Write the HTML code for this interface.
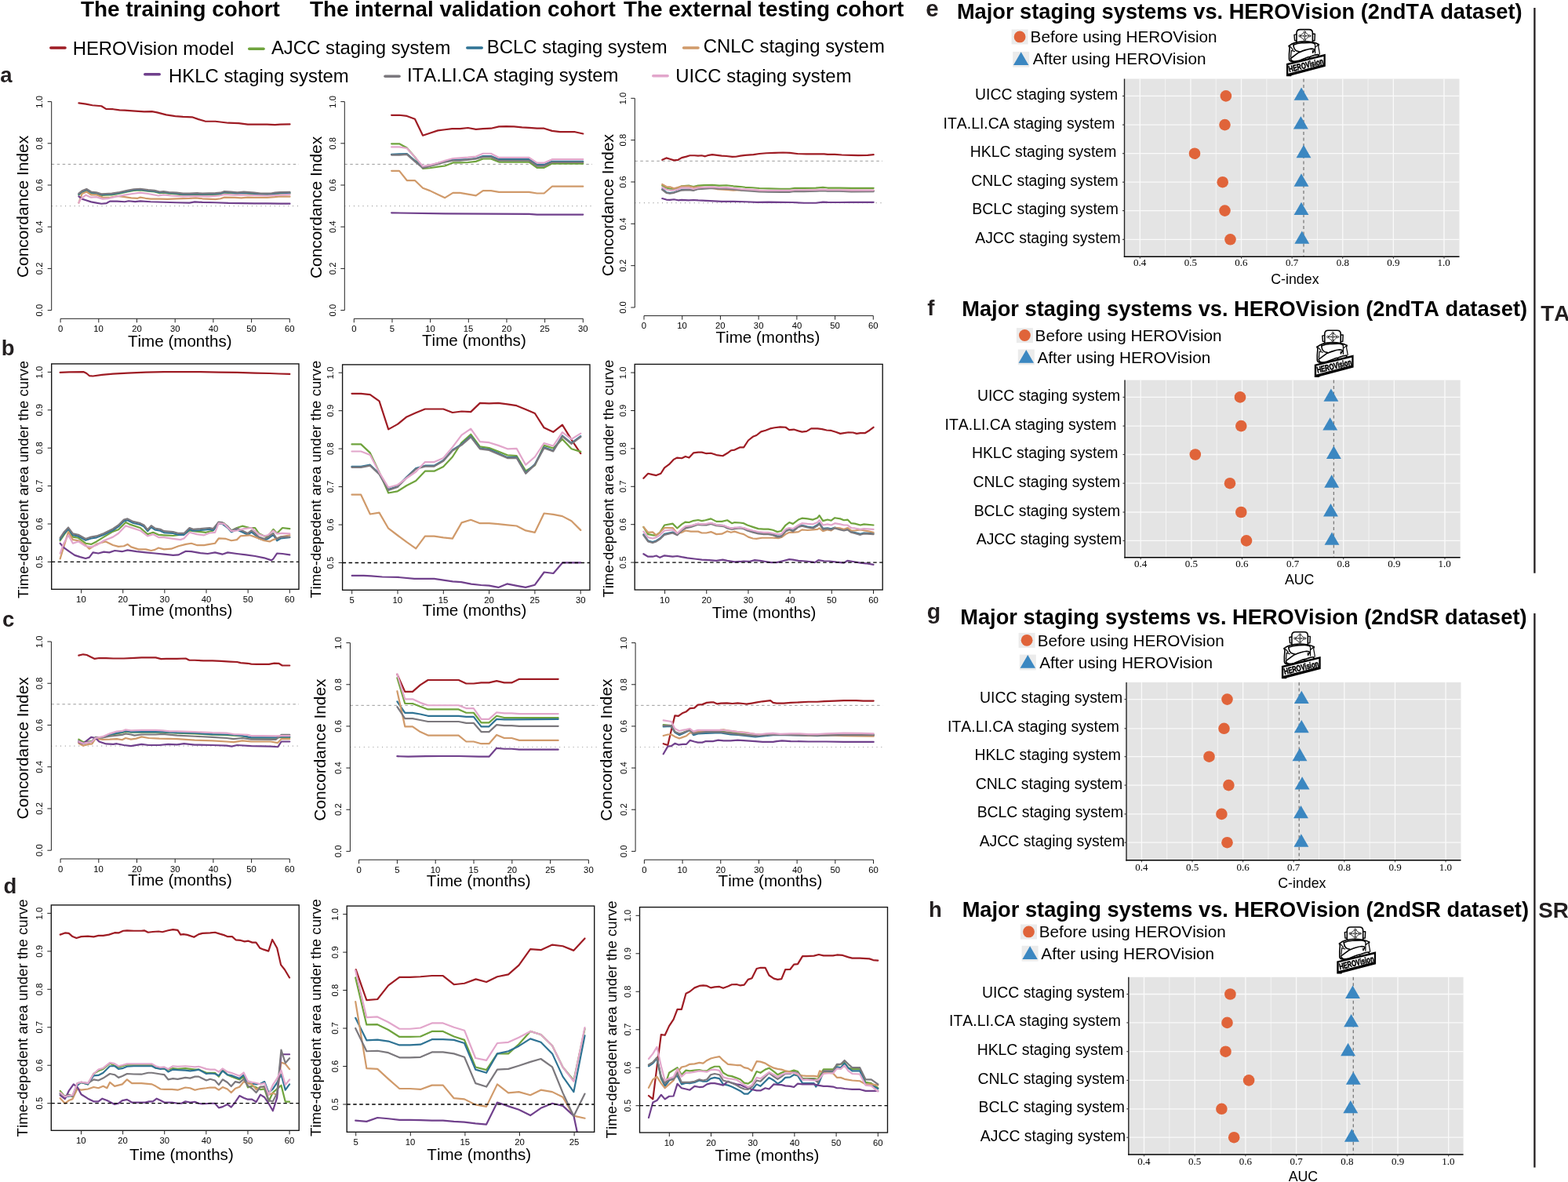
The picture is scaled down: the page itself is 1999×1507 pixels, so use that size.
<!DOCTYPE html>
<html lang="en"><head><meta charset="utf-8"><title>HEROVision staging comparison</title>
<style>html,body{margin:0;padding:0;background:#fff;} body{width:1999px;height:1507px;overflow:hidden;} text{font-kerning:none;}</style>
</head><body>
<svg xmlns="http://www.w3.org/2000/svg" width="1999" height="1507" viewBox="0 0 1999 1507" style="display:block;font-kerning:none">
<rect width="1999" height="1507" fill="#fff"/>
<text x="103.09" y="21.2" font-family="'Liberation Sans', Arial, Helvetica, sans-serif" font-size="27.85" font-weight="bold" fill="#000">The training cohort</text>
<text x="394.89" y="21.2" font-family="'Liberation Sans', Arial, Helvetica, sans-serif" font-size="27.85" font-weight="bold" fill="#000">The internal validation cohort</text>
<text x="794.99" y="21.2" font-family="'Liberation Sans', Arial, Helvetica, sans-serif" font-size="27.85" font-weight="bold" fill="#000">The external testing cohort</text>
<line x1="64.8" y1="61" x2="83" y2="61" stroke="#9e1c24" stroke-width="3.6" stroke-linecap="round"/>
<text x="92.64" y="69.9" font-family="'Liberation Sans', Arial, Helvetica, sans-serif" font-size="23.9" font-weight="normal" fill="#000">HEROVision model</text>
<line x1="317.8" y1="62.2" x2="336" y2="62.2" stroke="#6fa33d" stroke-width="3.6" stroke-linecap="round"/>
<text x="345.95" y="68.7" font-family="'Liberation Sans', Arial, Helvetica, sans-serif" font-size="23.9" font-weight="normal" fill="#000">AJCC staging system</text>
<line x1="595.8" y1="61" x2="614.2" y2="61" stroke="#2f7394" stroke-width="3.6" stroke-linecap="round"/>
<text x="620.84" y="68.3" font-family="'Liberation Sans', Arial, Helvetica, sans-serif" font-size="23.9" font-weight="normal" fill="#000">BCLC staging system</text>
<line x1="871.6" y1="61" x2="890" y2="61" stroke="#d09a6a" stroke-width="3.6" stroke-linecap="round"/>
<text x="896.79" y="66.7" font-family="'Liberation Sans', Arial, Helvetica, sans-serif" font-size="23.9" font-weight="normal" fill="#000">CNLC staging system</text>
<line x1="184.8" y1="94.8" x2="203.2" y2="94.8" stroke="#70408c" stroke-width="3.6" stroke-linecap="round"/>
<text x="215.04" y="104.9" font-family="'Liberation Sans', Arial, Helvetica, sans-serif" font-size="23.9" font-weight="normal" fill="#000">HKLC staging system</text>
<line x1="491" y1="97.2" x2="509" y2="97.2" stroke="#7b787d" stroke-width="3.6" stroke-linecap="round"/>
<text x="518.99" y="103.9" font-family="'Liberation Sans', Arial, Helvetica, sans-serif" font-size="23.9" font-weight="normal" fill="#000">ITA.LI.CA staging system</text>
<line x1="832.8" y1="96.7" x2="851.1" y2="96.7" stroke="#e2a6cb" stroke-width="3.6" stroke-linecap="round"/>
<text x="861.16" y="104.8" font-family="'Liberation Sans', Arial, Helvetica, sans-serif" font-size="23.9" font-weight="normal" fill="#000">UICC staging system</text>
<text x="0.19" y="105" font-family="'Liberation Sans', Arial, Helvetica, sans-serif" font-size="27.5" font-weight="bold" fill="#231f20">a</text>
<text x="1.79" y="452.8" font-family="'Liberation Sans', Arial, Helvetica, sans-serif" font-size="27.5" font-weight="bold" fill="#231f20">b</text>
<text x="2.93" y="798.5" font-family="'Liberation Sans', Arial, Helvetica, sans-serif" font-size="27.5" font-weight="bold" fill="#231f20">c</text>
<text x="4.47" y="1138.8" font-family="'Liberation Sans', Arial, Helvetica, sans-serif" font-size="27.5" font-weight="bold" fill="#231f20">d</text>
<line x1="1956.4" y1="9.9" x2="1956.4" y2="730.7" stroke="#231f20" stroke-width="2.3"/>
<line x1="1956.4" y1="782" x2="1956.4" y2="1488.5" stroke="#231f20" stroke-width="2.3"/>
<text x="1964.29" y="409" font-family="'Liberation Sans', Arial, Helvetica, sans-serif" font-size="27.8" font-weight="bold" fill="#231f20">TA</text>
<text x="1961.2" y="1169.6" font-family="'Liberation Sans', Arial, Helvetica, sans-serif" font-size="27.8" font-weight="bold" fill="#231f20">SR</text>
<line x1="65.7" y1="209.4" x2="380.99" y2="209.4" stroke="#9a9a9a" stroke-width="1" stroke-dasharray="3.5,3.5"/>
<line x1="65.7" y1="262.6" x2="380.99" y2="262.6" stroke="#9a9a9a" stroke-width="1.1" stroke-dasharray="1,4.8"/>
<line x1="65.7" y1="395.6" x2="65.7" y2="129.6" stroke="#222" stroke-width="1"/>
<line x1="60.7" y1="395.6" x2="65.7" y2="395.6" stroke="#222" stroke-width="1"/>
<text transform="translate(54.2,395.6) rotate(-90)" x="-7.85" y="0" font-family="'Liberation Sans', Arial, Helvetica, sans-serif" font-size="11.3" fill="#000">0.0</text>
<line x1="60.7" y1="342.4" x2="65.7" y2="342.4" stroke="#222" stroke-width="1"/>
<text transform="translate(54.2,342.4) rotate(-90)" x="-7.79" y="0" font-family="'Liberation Sans', Arial, Helvetica, sans-serif" font-size="11.3" fill="#000">0.2</text>
<line x1="60.7" y1="289.2" x2="65.7" y2="289.2" stroke="#222" stroke-width="1"/>
<text transform="translate(54.2,289.2) rotate(-90)" x="-7.91" y="0" font-family="'Liberation Sans', Arial, Helvetica, sans-serif" font-size="11.3" fill="#000">0.4</text>
<line x1="60.7" y1="236" x2="65.7" y2="236" stroke="#222" stroke-width="1"/>
<text transform="translate(54.2,236) rotate(-90)" x="-7.83" y="0" font-family="'Liberation Sans', Arial, Helvetica, sans-serif" font-size="11.3" fill="#000">0.6</text>
<line x1="60.7" y1="182.8" x2="65.7" y2="182.8" stroke="#222" stroke-width="1"/>
<text transform="translate(54.2,182.8) rotate(-90)" x="-7.83" y="0" font-family="'Liberation Sans', Arial, Helvetica, sans-serif" font-size="11.3" fill="#000">0.8</text>
<line x1="60.7" y1="129.6" x2="65.7" y2="129.6" stroke="#222" stroke-width="1"/>
<text transform="translate(54.2,129.6) rotate(-90)" x="-8.06" y="0" font-family="'Liberation Sans', Arial, Helvetica, sans-serif" font-size="11.3" fill="#000">1.0</text>
<line x1="77.1" y1="406.3" x2="369.3" y2="406.3" stroke="#222" stroke-width="1"/>
<line x1="77.1" y1="406.3" x2="77.1" y2="411.3" stroke="#222" stroke-width="1"/>
<text x="73.96" y="423" font-family="'Liberation Sans', Arial, Helvetica, sans-serif" font-size="11.3" font-weight="normal" fill="#000">0</text>
<line x1="125.8" y1="406.3" x2="125.8" y2="411.3" stroke="#222" stroke-width="1"/>
<text x="119.31" y="423" font-family="'Liberation Sans', Arial, Helvetica, sans-serif" font-size="11.3" font-weight="normal" fill="#000">10</text>
<line x1="174.5" y1="406.3" x2="174.5" y2="411.3" stroke="#222" stroke-width="1"/>
<text x="168.15" y="423" font-family="'Liberation Sans', Arial, Helvetica, sans-serif" font-size="11.3" font-weight="normal" fill="#000">20</text>
<line x1="223.2" y1="406.3" x2="223.2" y2="411.3" stroke="#222" stroke-width="1"/>
<text x="216.92" y="423" font-family="'Liberation Sans', Arial, Helvetica, sans-serif" font-size="11.3" font-weight="normal" fill="#000">30</text>
<line x1="271.9" y1="406.3" x2="271.9" y2="411.3" stroke="#222" stroke-width="1"/>
<text x="265.71" y="423" font-family="'Liberation Sans', Arial, Helvetica, sans-serif" font-size="11.3" font-weight="normal" fill="#000">40</text>
<line x1="320.6" y1="406.3" x2="320.6" y2="411.3" stroke="#222" stroke-width="1"/>
<text x="314.31" y="423" font-family="'Liberation Sans', Arial, Helvetica, sans-serif" font-size="11.3" font-weight="normal" fill="#000">50</text>
<line x1="369.3" y1="406.3" x2="369.3" y2="411.3" stroke="#222" stroke-width="1"/>
<text x="362.95" y="423" font-family="'Liberation Sans', Arial, Helvetica, sans-serif" font-size="11.3" font-weight="normal" fill="#000">60</text>
<text transform="translate(36.1,263) rotate(-90)" x="-91.04" y="0" font-family="'Liberation Sans', Arial, Helvetica, sans-serif" font-size="20.9" fill="#000">Concordance Index</text>
<text x="162.92" y="441.7" font-family="'Liberation Sans', Arial, Helvetica, sans-serif" font-size="20.6" font-weight="normal" fill="#000">Time (months)</text>
<g>
<polyline points="100.44,131.46 109.52,132.61 117.77,134.27 129.33,135.26 135.11,138.89 144.19,139.22 152.44,140.37 159.04,140.54 168.95,141.36 183.8,142.35 193.71,142.19 200.31,143.34 211.87,146.32 223.42,148.13 233.32,148.96 244.88,149.29 253.13,152.09 261.39,154.57 274.59,154.73 291.1,156.72 304.31,157.05 315.86,158.7 340.62,158.53 350.52,159.03 357.13,158.53 369.51,158.37" fill="none" stroke="#9e1c24" stroke-width="2.2" stroke-linejoin="round" stroke-linecap="round"/>
<polyline points="100.44,248.33 104.57,245.03 110.35,242.55 116.12,246.18 122.73,247.01 129.33,248.99 134.28,248.66 142.54,248.33 152.44,246.68 162.34,244.53 170.6,242.88 178.85,242.39 188.76,243.71 197.01,244.53 203.61,246.18 208.56,245.69 215.17,246.68 225.07,247.34 233.32,248.33 241.58,248.33 251.48,247.83 258.09,248.33 274.59,247.83 281.2,247.34 286.15,245.69 294.4,246.18 302.65,247.01 310.91,246.35 324.11,247.34 332.37,248.33 345.57,248.16 350.52,247.34 357.13,246.68 369.51,246.51" fill="none" stroke="#6fa33d" stroke-width="2.2" stroke-linejoin="round" stroke-linecap="round"/>
<polyline points="100.44,247.67 104.57,244.37 110.35,241.89 116.12,245.52 122.73,246.35 129.33,248.33 134.28,248 142.54,247.67 152.44,246.02 162.34,243.87 170.6,242.22 178.85,241.73 188.76,243.05 197.01,243.87 203.61,245.52 208.56,245.03 215.17,246.02 225.07,246.68 233.32,247.67 241.58,247.67 251.48,247.17 258.09,247.67 274.59,247.17 281.2,246.68 286.15,245.03 294.4,245.52 302.65,246.35 310.91,245.69 324.11,246.68 332.37,247.67 345.57,247.5 350.52,246.68 357.13,246.02 369.51,245.85" fill="none" stroke="#2f7394" stroke-width="2.2" stroke-linejoin="round" stroke-linecap="round"/>
<polyline points="100.44,258.56 104.57,247.01 110.35,244.53 116.12,248.33 122.73,248.33 130.98,251.63 139.23,251.96 149.14,249.98 159.04,251.14 167.3,252.29 175.55,252.79 178.85,251.63 185.45,252.79 192.06,253.61 203.61,253.61 213.52,253.94 225.07,253.28 241.58,252.95 249.83,252.29 258.09,253.28 274.59,254.11 281.2,253.28 286.15,251.63 299.35,251.96 307.61,252.29 315.86,251.63 324.11,251.96 340.62,251.96 350.52,251.14 357.13,250.31 369.51,250.64" fill="none" stroke="#d09a6a" stroke-width="2.2" stroke-linejoin="round" stroke-linecap="round"/>
<polyline points="100.44,250.31 104.57,253.61 109.52,255.26 116.12,257.41 122.73,258.56 129.33,259.72 135.93,259.06 140.06,256.58 149.14,256.58 159.04,257.24 163.99,256.25 172.25,257.08 178.85,256.42 192.06,257.24 208.56,257.74 225.07,258.23 241.58,258.56 248.18,257.41 258.09,257.9 274.59,258.23 291.1,258.89 307.61,259.06 324.11,259.39 340.62,259.39 357.13,259.72 369.51,259.72" fill="none" stroke="#70408c" stroke-width="2.2" stroke-linejoin="round" stroke-linecap="round"/>
<polyline points="100.44,246.68 104.57,243.38 110.35,240.9 116.12,244.53 122.73,245.36 129.33,247.34 134.28,247.01 142.54,246.68 152.44,245.03 162.34,242.88 170.6,241.23 178.85,240.74 188.76,242.06 197.01,242.88 203.61,244.53 208.56,244.04 215.17,245.03 225.07,245.69 233.32,246.68 241.58,246.68 251.48,246.18 258.09,246.68 274.59,246.18 281.2,245.69 286.15,244.04 294.4,244.53 302.65,245.36 310.91,244.7 324.11,245.69 332.37,246.68 345.57,246.51 350.52,245.69 357.13,245.03 369.51,244.86" fill="none" stroke="#7b787d" stroke-width="2.2" stroke-linejoin="round" stroke-linecap="round"/>
<polyline points="100.44,258.56 102.92,253.61 109.52,248.66 116.12,251.63 122.73,251.14 130.98,253.61 139.23,252.79 149.14,250.31 159.04,248.66 168.95,247.01 178.85,245.69 188.76,247.01 201.96,249.48 208.56,248.33 218.47,249.48 233.32,250.31 249.83,249.98 266.34,250.31 279.54,249.48 286.15,247.83 299.35,248.66 307.61,248.33 324.11,248.99 340.62,249.48 357.13,248.66 369.51,247.83" fill="none" stroke="#e2a6cb" stroke-width="2.2" stroke-linejoin="round" stroke-linecap="round"/>
</g>
<line x1="439.3" y1="209.4" x2="754.98" y2="209.4" stroke="#9a9a9a" stroke-width="1" stroke-dasharray="3.5,3.5"/>
<line x1="439.3" y1="262.6" x2="754.98" y2="262.6" stroke="#9a9a9a" stroke-width="1.1" stroke-dasharray="1,4.8"/>
<line x1="439.3" y1="395.6" x2="439.3" y2="129.6" stroke="#222" stroke-width="1"/>
<line x1="434.3" y1="395.6" x2="439.3" y2="395.6" stroke="#222" stroke-width="1"/>
<text transform="translate(427.8,395.6) rotate(-90)" x="-7.85" y="0" font-family="'Liberation Sans', Arial, Helvetica, sans-serif" font-size="11.3" fill="#000">0.0</text>
<line x1="434.3" y1="342.4" x2="439.3" y2="342.4" stroke="#222" stroke-width="1"/>
<text transform="translate(427.8,342.4) rotate(-90)" x="-7.79" y="0" font-family="'Liberation Sans', Arial, Helvetica, sans-serif" font-size="11.3" fill="#000">0.2</text>
<line x1="434.3" y1="289.2" x2="439.3" y2="289.2" stroke="#222" stroke-width="1"/>
<text transform="translate(427.8,289.2) rotate(-90)" x="-7.91" y="0" font-family="'Liberation Sans', Arial, Helvetica, sans-serif" font-size="11.3" fill="#000">0.4</text>
<line x1="434.3" y1="236" x2="439.3" y2="236" stroke="#222" stroke-width="1"/>
<text transform="translate(427.8,236) rotate(-90)" x="-7.83" y="0" font-family="'Liberation Sans', Arial, Helvetica, sans-serif" font-size="11.3" fill="#000">0.6</text>
<line x1="434.3" y1="182.8" x2="439.3" y2="182.8" stroke="#222" stroke-width="1"/>
<text transform="translate(427.8,182.8) rotate(-90)" x="-7.83" y="0" font-family="'Liberation Sans', Arial, Helvetica, sans-serif" font-size="11.3" fill="#000">0.8</text>
<line x1="434.3" y1="129.6" x2="439.3" y2="129.6" stroke="#222" stroke-width="1"/>
<text transform="translate(427.8,129.6) rotate(-90)" x="-8.06" y="0" font-family="'Liberation Sans', Arial, Helvetica, sans-serif" font-size="11.3" fill="#000">1.0</text>
<line x1="451.3" y1="406.3" x2="743.3" y2="406.3" stroke="#222" stroke-width="1"/>
<line x1="451.3" y1="406.3" x2="451.3" y2="411.3" stroke="#222" stroke-width="1"/>
<text x="448.16" y="423" font-family="'Liberation Sans', Arial, Helvetica, sans-serif" font-size="11.3" font-weight="normal" fill="#000">0</text>
<line x1="499.97" y1="406.3" x2="499.97" y2="411.3" stroke="#222" stroke-width="1"/>
<text x="496.84" y="423" font-family="'Liberation Sans', Arial, Helvetica, sans-serif" font-size="11.3" font-weight="normal" fill="#000">5</text>
<line x1="548.63" y1="406.3" x2="548.63" y2="411.3" stroke="#222" stroke-width="1"/>
<text x="542.14" y="423" font-family="'Liberation Sans', Arial, Helvetica, sans-serif" font-size="11.3" font-weight="normal" fill="#000">10</text>
<line x1="597.3" y1="406.3" x2="597.3" y2="411.3" stroke="#222" stroke-width="1"/>
<text x="590.82" y="423" font-family="'Liberation Sans', Arial, Helvetica, sans-serif" font-size="11.3" font-weight="normal" fill="#000">15</text>
<line x1="645.97" y1="406.3" x2="645.97" y2="411.3" stroke="#222" stroke-width="1"/>
<text x="639.62" y="423" font-family="'Liberation Sans', Arial, Helvetica, sans-serif" font-size="11.3" font-weight="normal" fill="#000">20</text>
<line x1="694.63" y1="406.3" x2="694.63" y2="411.3" stroke="#222" stroke-width="1"/>
<text x="688.3" y="423" font-family="'Liberation Sans', Arial, Helvetica, sans-serif" font-size="11.3" font-weight="normal" fill="#000">25</text>
<line x1="743.3" y1="406.3" x2="743.3" y2="411.3" stroke="#222" stroke-width="1"/>
<text x="737.02" y="423" font-family="'Liberation Sans', Arial, Helvetica, sans-serif" font-size="11.3" font-weight="normal" fill="#000">30</text>
<text transform="translate(410,264) rotate(-90)" x="-91.04" y="0" font-family="'Liberation Sans', Arial, Helvetica, sans-serif" font-size="20.9" fill="#000">Concordance Index</text>
<text x="538.02" y="440.5" font-family="'Liberation Sans', Arial, Helvetica, sans-serif" font-size="20.6" font-weight="normal" fill="#000">Time (months)</text>
<g>
<polyline points="499.13,146.78 509.06,146.78 518.76,147.91 528.92,151.74 539.07,172.73 548.1,169.79 558.25,166.41 567.27,165.28 576.3,164.15 586.45,164.15 596.61,163.02 606.76,164.83 615.79,164.15 625.94,163.7 636.09,161.44 645.12,161.22 655.27,161.44 665.42,162.35 674.45,162.8 684.6,163.7 693.63,163.7 703.78,166.86 713.94,168.21 722.96,168.21 733.11,168.21 743.27,170.47" fill="none" stroke="#9e1c24" stroke-width="2.2" stroke-linejoin="round" stroke-linecap="round"/>
<polyline points="499.13,183.33 509.06,183.33 518.76,188.52 528.92,200.25 539.07,214.92 548.1,214.24 558.25,212.66 567.27,211.53 577.43,207.47 586.45,207.47 596.61,207.02 606.76,205.89 615.79,202.51 625.94,202.51 636.09,206.57 645.12,206.57 655.27,206.57 665.42,206.57 674.45,206.57 684.6,213.79 693.63,213.79 703.78,208.6 713.94,208.6 722.96,208.6 733.11,208.6 743.27,208.6" fill="none" stroke="#6fa33d" stroke-width="2.2" stroke-linejoin="round" stroke-linecap="round"/>
<polyline points="499.13,196.87 509.06,196.42 518.76,196.19 528.92,204.77 539.07,213.34 548.1,211.08 558.25,208.15 567.27,205.89 577.43,203.64 586.45,203.64 596.61,203.19 606.76,202.06 615.79,199.12 625.94,199.12 636.09,203.19 645.12,203.19 655.27,203.19 665.42,203.19 674.45,203.19 684.6,209.95 693.63,209.95 703.78,205.89 713.94,205.89 722.96,205.89 733.11,205.89 743.27,205.89" fill="none" stroke="#2f7394" stroke-width="2.2" stroke-linejoin="round" stroke-linecap="round"/>
<polyline points="499.13,217.85 509.06,217.85 518.76,230.04 528.92,230.04 539.07,239.74 548.1,243.12 558.25,248.09 567.27,252.15 577.43,245.83 586.45,245.83 596.61,247.64 606.76,249.44 615.79,243.12 625.94,243.12 636.09,244.93 645.12,244.93 655.27,244.93 665.42,244.93 674.45,244.93 684.6,246.51 693.63,246.51 703.78,237.71 713.94,237.71 722.96,237.71 733.11,237.71 743.27,237.71" fill="none" stroke="#d09a6a" stroke-width="2.2" stroke-linejoin="round" stroke-linecap="round"/>
<polyline points="499.13,271.33 567.27,272.45 674.45,272.91 684.6,273.58 743.27,273.58" fill="none" stroke="#70408c" stroke-width="2.2" stroke-linejoin="round" stroke-linecap="round"/>
<polyline points="499.13,197.55 509.06,197.55 518.76,196.87 528.92,205.89 539.07,214.24 548.1,211.99 558.25,209.28 567.27,206.57 577.43,204.77 586.45,204.77 596.61,203.64 606.76,202.51 615.79,200.25 625.94,200.25 636.09,204.77 645.12,204.77 655.27,204.77 665.42,204.77 674.45,204.77 684.6,211.53 693.63,211.53 703.78,207.02 713.94,207.02 722.96,207.02 733.11,207.02 743.27,207.02" fill="none" stroke="#7b787d" stroke-width="2.2" stroke-linejoin="round" stroke-linecap="round"/>
<polyline points="499.13,187.39 509.06,187.39 518.76,188.97 528.92,200.25 539.07,211.99 548.1,210.41 558.25,207.7 567.27,204.77 577.43,202.06 586.45,201.38 596.61,200.7 606.76,199.58 615.79,195.74 625.94,195.74 636.09,200.93 645.12,200.93 655.27,200.93 665.42,200.93 674.45,200.93 684.6,207.7 693.63,207.7 703.78,203.19 713.94,203.19 722.96,203.19 733.11,203.19 743.27,203.19" fill="none" stroke="#e2a6cb" stroke-width="2.2" stroke-linejoin="round" stroke-linecap="round"/>
</g>
<line x1="809.3" y1="205.31" x2="1124.99" y2="205.31" stroke="#9a9a9a" stroke-width="1" stroke-dasharray="3.5,3.5"/>
<line x1="809.3" y1="258.65" x2="1124.99" y2="258.65" stroke="#9a9a9a" stroke-width="1.1" stroke-dasharray="1,4.8"/>
<line x1="809.3" y1="392" x2="809.3" y2="125.3" stroke="#222" stroke-width="1"/>
<line x1="804.3" y1="392" x2="809.3" y2="392" stroke="#222" stroke-width="1"/>
<text transform="translate(797.8,392) rotate(-90)" x="-7.85" y="0" font-family="'Liberation Sans', Arial, Helvetica, sans-serif" font-size="11.3" fill="#000">0.0</text>
<line x1="804.3" y1="338.66" x2="809.3" y2="338.66" stroke="#222" stroke-width="1"/>
<text transform="translate(797.8,338.66) rotate(-90)" x="-7.79" y="0" font-family="'Liberation Sans', Arial, Helvetica, sans-serif" font-size="11.3" fill="#000">0.2</text>
<line x1="804.3" y1="285.32" x2="809.3" y2="285.32" stroke="#222" stroke-width="1"/>
<text transform="translate(797.8,285.32) rotate(-90)" x="-7.91" y="0" font-family="'Liberation Sans', Arial, Helvetica, sans-serif" font-size="11.3" fill="#000">0.4</text>
<line x1="804.3" y1="231.98" x2="809.3" y2="231.98" stroke="#222" stroke-width="1"/>
<text transform="translate(797.8,231.98) rotate(-90)" x="-7.83" y="0" font-family="'Liberation Sans', Arial, Helvetica, sans-serif" font-size="11.3" fill="#000">0.6</text>
<line x1="804.3" y1="178.64" x2="809.3" y2="178.64" stroke="#222" stroke-width="1"/>
<text transform="translate(797.8,178.64) rotate(-90)" x="-7.83" y="0" font-family="'Liberation Sans', Arial, Helvetica, sans-serif" font-size="11.3" fill="#000">0.8</text>
<line x1="804.3" y1="125.3" x2="809.3" y2="125.3" stroke="#222" stroke-width="1"/>
<text transform="translate(797.8,125.3) rotate(-90)" x="-8.06" y="0" font-family="'Liberation Sans', Arial, Helvetica, sans-serif" font-size="11.3" fill="#000">1.0</text>
<line x1="821" y1="402.6" x2="1113.3" y2="402.6" stroke="#222" stroke-width="1"/>
<line x1="821" y1="402.6" x2="821" y2="407.6" stroke="#222" stroke-width="1"/>
<text x="817.86" y="419.3" font-family="'Liberation Sans', Arial, Helvetica, sans-serif" font-size="11.3" font-weight="normal" fill="#000">0</text>
<line x1="869.72" y1="402.6" x2="869.72" y2="407.6" stroke="#222" stroke-width="1"/>
<text x="863.22" y="419.3" font-family="'Liberation Sans', Arial, Helvetica, sans-serif" font-size="11.3" font-weight="normal" fill="#000">10</text>
<line x1="918.43" y1="402.6" x2="918.43" y2="407.6" stroke="#222" stroke-width="1"/>
<text x="912.09" y="419.3" font-family="'Liberation Sans', Arial, Helvetica, sans-serif" font-size="11.3" font-weight="normal" fill="#000">20</text>
<line x1="967.15" y1="402.6" x2="967.15" y2="407.6" stroke="#222" stroke-width="1"/>
<text x="960.87" y="419.3" font-family="'Liberation Sans', Arial, Helvetica, sans-serif" font-size="11.3" font-weight="normal" fill="#000">30</text>
<line x1="1015.87" y1="402.6" x2="1015.87" y2="407.6" stroke="#222" stroke-width="1"/>
<text x="1009.67" y="419.3" font-family="'Liberation Sans', Arial, Helvetica, sans-serif" font-size="11.3" font-weight="normal" fill="#000">40</text>
<line x1="1064.58" y1="402.6" x2="1064.58" y2="407.6" stroke="#222" stroke-width="1"/>
<text x="1058.29" y="419.3" font-family="'Liberation Sans', Arial, Helvetica, sans-serif" font-size="11.3" font-weight="normal" fill="#000">50</text>
<line x1="1113.3" y1="402.6" x2="1113.3" y2="407.6" stroke="#222" stroke-width="1"/>
<text x="1106.95" y="419.3" font-family="'Liberation Sans', Arial, Helvetica, sans-serif" font-size="11.3" font-weight="normal" fill="#000">60</text>
<text transform="translate(781.6,261.2) rotate(-90)" x="-91.04" y="0" font-family="'Liberation Sans', Arial, Helvetica, sans-serif" font-size="20.9" fill="#000">Concordance Index</text>
<text x="912.52" y="437.2" font-family="'Liberation Sans', Arial, Helvetica, sans-serif" font-size="20.6" font-weight="normal" fill="#000">Time (months)</text>
<g>
<polyline points="844.26,203.81 849.51,201.41 854.01,202.76 859.27,204.41 864.52,203.81 869.02,201.11 875.02,199.61 879.53,198.25 885.53,198.25 890.03,198.7 894.54,198.25 899.04,199.31 903.54,197.8 908.04,197.2 914.05,197.8 920.05,198.55 926.05,199 933.56,199.91 938.06,199.76 944.06,198.7 950.07,197.8 960.57,197.2 968.08,196 977.08,195.25 987.59,194.95 998.09,194.5 1007.1,194.95 1016.1,196 1028.11,196.3 1040.12,196.45 1050.62,196.3 1055.12,196.9 1064.13,196.9 1073.13,197.5 1085.14,197.8 1094.15,198.1 1106.15,197.8 1113.66,197.2" fill="none" stroke="#9e1c24" stroke-width="2.2" stroke-linejoin="round" stroke-linecap="round"/>
<polyline points="844.26,236.53 849.51,239.53 854.01,240.58 859.27,241.03 864.52,239.53 869.02,237.28 878.03,236.53 884.03,238.03 890.03,236.53 897.54,236.08 908.04,235.78 917.05,236.53 926.05,236.23 935.06,237.28 944.06,238.03 950.07,238.78 959.07,239.23 968.08,239.98 980.08,240.43 995.09,240.73 1007.1,240.73 1013.1,239.83 1025.11,239.83 1040.12,239.53 1049.12,238.93 1055.12,239.53 1070.13,239.53 1085.14,239.83 1113.66,239.83" fill="none" stroke="#6fa33d" stroke-width="2.2" stroke-linejoin="round" stroke-linecap="round"/>
<polyline points="844.26,241.18 849.51,245.23 854.01,246.13 859.27,245.23 864.52,243.43 869.02,241.93 878.03,241.48 884.03,242.23 890.03,240.43 897.54,239.98 908.04,239.38 917.05,240.13 926.05,239.98 935.06,240.88 944.06,241.93 959.07,242.98 968.08,243.73 980.08,244.03 995.09,244.18 1007.1,244.18 1013.1,243.43 1025.11,243.43 1040.12,243.13 1049.12,242.53 1055.12,243.13 1070.13,243.13 1085.14,243.73 1113.66,243.43" fill="none" stroke="#2f7394" stroke-width="2.2" stroke-linejoin="round" stroke-linecap="round"/>
<polyline points="844.26,235.02 849.51,238.03 854.01,238.33 859.27,240.28 864.52,238.78 869.02,237.58 878.03,237.43 884.03,238.78 890.03,238.33 905.04,239.53 914.05,241.03 926.05,241.78 935.06,242.53 944.06,242.23 959.07,242.53 980.08,243.28 1010.1,243.13 1040.12,242.53 1113.66,242.83" fill="none" stroke="#d09a6a" stroke-width="2.2" stroke-linejoin="round" stroke-linecap="round"/>
<polyline points="844.26,253.03 849.51,254.54 854.01,254.84 859.27,254.24 864.52,255.29 869.02,254.84 878.03,255.29 884.03,254.99 890.03,255.44 905.04,256.04 920.05,256.79 935.06,256.79 950.07,257.24 965.07,257.84 980.08,257.54 995.09,257.84 1010.1,257.99 1025.11,258.74 1040.12,258.74 1049.12,257.54 1055.12,257.84 1070.13,257.99 1085.14,257.84 1113.66,257.84" fill="none" stroke="#70408c" stroke-width="2.2" stroke-linejoin="round" stroke-linecap="round"/>
<polyline points="844.26,241.78 849.51,245.83 854.01,246.73 859.27,245.83 864.52,244.03 869.02,242.53 878.03,242.08 884.03,242.83 890.03,241.03 897.54,240.58 908.04,239.98 917.05,240.73 926.05,240.58 935.06,241.48 944.06,242.53 959.07,243.58 968.08,244.33 980.08,244.63 995.09,244.78 1007.1,244.78 1013.1,244.03 1025.11,244.03 1040.12,243.73 1049.12,243.13 1055.12,243.73 1070.13,243.73 1085.14,244.33 1113.66,244.03" fill="none" stroke="#7b787d" stroke-width="2.2" stroke-linejoin="round" stroke-linecap="round"/>
<polyline points="844.26,238.78 849.51,241.78 854.01,242.53 859.27,242.53 864.52,241.33 869.02,239.53 878.03,239.53 884.03,241.03 890.03,239.53 897.54,238.78 908.04,238.33 917.05,239.23 926.05,239.08 935.06,239.98 944.06,241.03 959.07,241.78 968.08,242.53 980.08,242.83 995.09,242.83 1007.1,242.83 1013.1,242.23 1025.11,242.23 1040.12,242.23 1049.12,241.63 1055.12,242.23 1070.13,242.23 1085.14,242.53 1113.66,242.53" fill="none" stroke="#e2a6cb" stroke-width="2.2" stroke-linejoin="round" stroke-linecap="round"/>
</g>
<line x1="65.4" y1="897.86" x2="380.99" y2="897.86" stroke="#9a9a9a" stroke-width="1" stroke-dasharray="3.5,3.5"/>
<line x1="65.4" y1="951.1" x2="380.99" y2="951.1" stroke="#9a9a9a" stroke-width="1.1" stroke-dasharray="1,4.8"/>
<line x1="65.4" y1="1084.2" x2="65.4" y2="818" stroke="#222" stroke-width="1"/>
<line x1="60.4" y1="1084.2" x2="65.4" y2="1084.2" stroke="#222" stroke-width="1"/>
<text transform="translate(53.9,1084.2) rotate(-90)" x="-7.85" y="0" font-family="'Liberation Sans', Arial, Helvetica, sans-serif" font-size="11.3" fill="#000">0.0</text>
<line x1="60.4" y1="1030.96" x2="65.4" y2="1030.96" stroke="#222" stroke-width="1"/>
<text transform="translate(53.9,1030.96) rotate(-90)" x="-7.79" y="0" font-family="'Liberation Sans', Arial, Helvetica, sans-serif" font-size="11.3" fill="#000">0.2</text>
<line x1="60.4" y1="977.72" x2="65.4" y2="977.72" stroke="#222" stroke-width="1"/>
<text transform="translate(53.9,977.72) rotate(-90)" x="-7.91" y="0" font-family="'Liberation Sans', Arial, Helvetica, sans-serif" font-size="11.3" fill="#000">0.4</text>
<line x1="60.4" y1="924.48" x2="65.4" y2="924.48" stroke="#222" stroke-width="1"/>
<text transform="translate(53.9,924.48) rotate(-90)" x="-7.83" y="0" font-family="'Liberation Sans', Arial, Helvetica, sans-serif" font-size="11.3" fill="#000">0.6</text>
<line x1="60.4" y1="871.24" x2="65.4" y2="871.24" stroke="#222" stroke-width="1"/>
<text transform="translate(53.9,871.24) rotate(-90)" x="-7.83" y="0" font-family="'Liberation Sans', Arial, Helvetica, sans-serif" font-size="11.3" fill="#000">0.8</text>
<line x1="60.4" y1="818" x2="65.4" y2="818" stroke="#222" stroke-width="1"/>
<text transform="translate(53.9,818) rotate(-90)" x="-8.06" y="0" font-family="'Liberation Sans', Arial, Helvetica, sans-serif" font-size="11.3" fill="#000">1.0</text>
<line x1="77.1" y1="1095" x2="369.3" y2="1095" stroke="#222" stroke-width="1"/>
<line x1="77.1" y1="1095" x2="77.1" y2="1100" stroke="#222" stroke-width="1"/>
<text x="73.96" y="1111.7" font-family="'Liberation Sans', Arial, Helvetica, sans-serif" font-size="11.3" font-weight="normal" fill="#000">0</text>
<line x1="125.8" y1="1095" x2="125.8" y2="1100" stroke="#222" stroke-width="1"/>
<text x="119.31" y="1111.7" font-family="'Liberation Sans', Arial, Helvetica, sans-serif" font-size="11.3" font-weight="normal" fill="#000">10</text>
<line x1="174.5" y1="1095" x2="174.5" y2="1100" stroke="#222" stroke-width="1"/>
<text x="168.15" y="1111.7" font-family="'Liberation Sans', Arial, Helvetica, sans-serif" font-size="11.3" font-weight="normal" fill="#000">20</text>
<line x1="223.2" y1="1095" x2="223.2" y2="1100" stroke="#222" stroke-width="1"/>
<text x="216.92" y="1111.7" font-family="'Liberation Sans', Arial, Helvetica, sans-serif" font-size="11.3" font-weight="normal" fill="#000">30</text>
<line x1="271.9" y1="1095" x2="271.9" y2="1100" stroke="#222" stroke-width="1"/>
<text x="265.71" y="1111.7" font-family="'Liberation Sans', Arial, Helvetica, sans-serif" font-size="11.3" font-weight="normal" fill="#000">40</text>
<line x1="320.6" y1="1095" x2="320.6" y2="1100" stroke="#222" stroke-width="1"/>
<text x="314.31" y="1111.7" font-family="'Liberation Sans', Arial, Helvetica, sans-serif" font-size="11.3" font-weight="normal" fill="#000">50</text>
<line x1="369.3" y1="1095" x2="369.3" y2="1100" stroke="#222" stroke-width="1"/>
<text x="362.95" y="1111.7" font-family="'Liberation Sans', Arial, Helvetica, sans-serif" font-size="11.3" font-weight="normal" fill="#000">60</text>
<text transform="translate(36.1,953.4) rotate(-90)" x="-91.04" y="0" font-family="'Liberation Sans', Arial, Helvetica, sans-serif" font-size="20.9" fill="#000">Concordance Index</text>
<text x="163.02" y="1129.3" font-family="'Liberation Sans', Arial, Helvetica, sans-serif" font-size="20.6" font-weight="normal" fill="#000">Time (months)</text>
<g>
<polyline points="100.38,835.64 106.02,834.29 110.53,834.97 115.05,837.22 120.69,839.93 126.33,839.03 135.35,839.03 144.37,839.48 157.91,839.48 171.44,838.8 180.46,838.35 198.51,838.35 205.28,840.15 212.05,839.93 225.58,839.93 236.86,839.48 241.37,841.73 248.14,841.73 259.42,842.41 270.7,842.41 281.98,842.86 293.26,843.54 302.28,843.99 306.79,845.12 315.81,845.79 320.32,846.7 327.09,846.92 342.88,846.92 349.65,845.57 355.29,845.79 359.8,848.5 369.28,848.5" fill="none" stroke="#9e1c24" stroke-width="2.2" stroke-linejoin="round" stroke-linecap="round"/>
<polyline points="100.38,942.57 106.02,946.18 112.79,945.5 117.3,944.82 121.81,940.99 130.84,940.31 139.86,937.15 148.88,935.35 155.65,934.22 160.16,932.64 166.93,933.54 180.46,933.54 198.51,933.54 207.53,933.77 225.58,934.67 248.14,935.35 270.7,936.7 288.74,937.15 297.77,937.6 309.05,938.51 320.32,940.76 351.91,940.76 358.67,939.86 369.28,940.31" fill="none" stroke="#6fa33d" stroke-width="2.2" stroke-linejoin="round" stroke-linecap="round"/>
<polyline points="100.38,945.5 106.02,947.76 112.79,946.63 117.3,945.5 121.81,940.99 130.84,939.86 139.86,936.48 148.88,934.67 155.65,933.54 160.16,931.96 166.93,933.09 180.46,933.09 198.51,933.09 207.53,933.09 225.58,934.22 248.14,934.67 270.7,936.03 288.74,936.48 297.77,936.93 309.05,938.06 320.32,940.31 351.91,940.31 358.67,939.41 369.28,939.41" fill="none" stroke="#2f7394" stroke-width="2.2" stroke-linejoin="round" stroke-linecap="round"/>
<polyline points="100.38,947.76 106.02,950.69 112.79,948.88 117.3,948.43 121.81,941.66 130.84,942.79 139.86,942.57 148.88,942.12 155.65,943.24 160.16,940.99 166.93,942.57 173.7,941.66 180.46,939.41 189.49,940.99 203.02,941.66 225.58,942.12 248.14,943.7 270.7,944.37 288.74,945.5 297.77,946.18 309.05,944.37 320.32,945.5 345.14,945.5 354.16,947.08 358.67,942.12 369.28,942.12" fill="none" stroke="#d09a6a" stroke-width="2.2" stroke-linejoin="round" stroke-linecap="round"/>
<polyline points="100.38,946.18 106.02,948.21 110.53,944.37 116.17,939.86 121.81,940.99 126.33,945.5 135.35,948.43 144.37,948.88 148.88,948.21 157.91,950.01 166.93,951.14 175.95,949.56 180.46,948.88 189.49,950.01 203.02,950.01 214.3,948.88 225.58,949.33 234.6,948.21 248.14,949.56 270.7,950.01 288.74,950.69 295.51,951.59 302.28,950.01 320.32,951.14 345.14,951.59 354.16,952.27 358.67,945.5 369.28,945.5" fill="none" stroke="#70408c" stroke-width="2.2" stroke-linejoin="round" stroke-linecap="round"/>
<polyline points="100.38,944.37 106.02,947.76 112.79,946.63 117.3,945.5 121.81,939.86 130.84,940.31 139.86,938.73 148.88,937.6 155.65,936.93 160.16,935.35 166.93,936.48 171.44,937.6 180.46,936.48 198.51,936.48 207.53,935.8 225.58,937.6 248.14,938.73 270.7,939.86 288.74,940.99 297.77,942.12 309.05,940.99 320.32,942.57 351.91,942.79 358.67,936.93 369.28,936.93" fill="none" stroke="#7b787d" stroke-width="2.2" stroke-linejoin="round" stroke-linecap="round"/>
<polyline points="100.38,945.5 106.02,947.76 112.79,946.63 117.3,945.5 121.81,940.99 130.84,939.18 139.86,935.35 148.88,932.64 155.65,931.96 160.16,930.39 166.93,931.29 180.46,930.84 198.51,930.84 207.53,931.29 216.56,932.42 225.58,932.42 248.14,933.09 270.7,934.22 288.74,934.67 297.77,936.03 309.05,936.48 315.81,936.93 320.32,938.06 333.86,938.06 351.91,938.28 358.67,938.06 369.28,938.06" fill="none" stroke="#e2a6cb" stroke-width="2.2" stroke-linejoin="round" stroke-linecap="round"/>
</g>
<line x1="446.4" y1="899.34" x2="762.11" y2="899.34" stroke="#9a9a9a" stroke-width="1" stroke-dasharray="3.5,3.5"/>
<line x1="446.4" y1="952.5" x2="762.11" y2="952.5" stroke="#9a9a9a" stroke-width="1.1" stroke-dasharray="1,4.8"/>
<line x1="446.4" y1="1085.4" x2="446.4" y2="819.6" stroke="#222" stroke-width="1"/>
<line x1="441.4" y1="1085.4" x2="446.4" y2="1085.4" stroke="#222" stroke-width="1"/>
<text transform="translate(434.9,1085.4) rotate(-90)" x="-7.85" y="0" font-family="'Liberation Sans', Arial, Helvetica, sans-serif" font-size="11.3" fill="#000">0.0</text>
<line x1="441.4" y1="1032.24" x2="446.4" y2="1032.24" stroke="#222" stroke-width="1"/>
<text transform="translate(434.9,1032.24) rotate(-90)" x="-7.79" y="0" font-family="'Liberation Sans', Arial, Helvetica, sans-serif" font-size="11.3" fill="#000">0.2</text>
<line x1="441.4" y1="979.08" x2="446.4" y2="979.08" stroke="#222" stroke-width="1"/>
<text transform="translate(434.9,979.08) rotate(-90)" x="-7.91" y="0" font-family="'Liberation Sans', Arial, Helvetica, sans-serif" font-size="11.3" fill="#000">0.4</text>
<line x1="441.4" y1="925.92" x2="446.4" y2="925.92" stroke="#222" stroke-width="1"/>
<text transform="translate(434.9,925.92) rotate(-90)" x="-7.83" y="0" font-family="'Liberation Sans', Arial, Helvetica, sans-serif" font-size="11.3" fill="#000">0.6</text>
<line x1="441.4" y1="872.76" x2="446.4" y2="872.76" stroke="#222" stroke-width="1"/>
<text transform="translate(434.9,872.76) rotate(-90)" x="-7.83" y="0" font-family="'Liberation Sans', Arial, Helvetica, sans-serif" font-size="11.3" fill="#000">0.8</text>
<line x1="441.4" y1="819.6" x2="446.4" y2="819.6" stroke="#222" stroke-width="1"/>
<text transform="translate(434.9,819.6) rotate(-90)" x="-8.06" y="0" font-family="'Liberation Sans', Arial, Helvetica, sans-serif" font-size="11.3" fill="#000">1.0</text>
<line x1="457.6" y1="1096.2" x2="750.4" y2="1096.2" stroke="#222" stroke-width="1"/>
<line x1="457.6" y1="1096.2" x2="457.6" y2="1101.2" stroke="#222" stroke-width="1"/>
<text x="454.46" y="1112.9" font-family="'Liberation Sans', Arial, Helvetica, sans-serif" font-size="11.3" font-weight="normal" fill="#000">0</text>
<line x1="506.4" y1="1096.2" x2="506.4" y2="1101.2" stroke="#222" stroke-width="1"/>
<text x="503.27" y="1112.9" font-family="'Liberation Sans', Arial, Helvetica, sans-serif" font-size="11.3" font-weight="normal" fill="#000">5</text>
<line x1="555.2" y1="1096.2" x2="555.2" y2="1101.2" stroke="#222" stroke-width="1"/>
<text x="548.71" y="1112.9" font-family="'Liberation Sans', Arial, Helvetica, sans-serif" font-size="11.3" font-weight="normal" fill="#000">10</text>
<line x1="604" y1="1096.2" x2="604" y2="1101.2" stroke="#222" stroke-width="1"/>
<text x="597.52" y="1112.9" font-family="'Liberation Sans', Arial, Helvetica, sans-serif" font-size="11.3" font-weight="normal" fill="#000">15</text>
<line x1="652.8" y1="1096.2" x2="652.8" y2="1101.2" stroke="#222" stroke-width="1"/>
<text x="646.45" y="1112.9" font-family="'Liberation Sans', Arial, Helvetica, sans-serif" font-size="11.3" font-weight="normal" fill="#000">20</text>
<line x1="701.6" y1="1096.2" x2="701.6" y2="1101.2" stroke="#222" stroke-width="1"/>
<text x="695.27" y="1112.9" font-family="'Liberation Sans', Arial, Helvetica, sans-serif" font-size="11.3" font-weight="normal" fill="#000">25</text>
<line x1="750.4" y1="1096.2" x2="750.4" y2="1101.2" stroke="#222" stroke-width="1"/>
<text x="744.12" y="1112.9" font-family="'Liberation Sans', Arial, Helvetica, sans-serif" font-size="11.3" font-weight="normal" fill="#000">30</text>
<text transform="translate(414.8,955.6) rotate(-90)" x="-91.04" y="0" font-family="'Liberation Sans', Arial, Helvetica, sans-serif" font-size="20.9" fill="#000">Concordance Index</text>
<text x="543.82" y="1129.8" font-family="'Liberation Sans', Arial, Helvetica, sans-serif" font-size="20.6" font-weight="normal" fill="#000">Time (months)</text>
<g>
<polyline points="506.36,859.78 516.29,881.89 525.99,881.89 535.69,873.31 545.61,867 555.31,867 565.46,867 574.94,867 584.64,867 594.34,871.51 603.81,871.51 613.51,870.38 623.44,870.38 633.14,868.13 642.84,870.38 652.31,870.38 662.01,865.87 671.94,865.87 681.64,865.87 691.34,865.87 711.64,865.87" fill="none" stroke="#9e1c24" stroke-width="2.2" stroke-linejoin="round" stroke-linecap="round"/>
<polyline points="506.36,864.29 516.29,897 525.99,897 535.69,900.83 545.61,904.44 555.31,904.44 584.64,904.44 594.34,908.73 603.81,908.73 613.51,921.36 623.44,921.36 633.14,912.79 642.84,915.05 652.31,915.05 711.64,915.05" fill="none" stroke="#6fa33d" stroke-width="2.2" stroke-linejoin="round" stroke-linecap="round"/>
<polyline points="506.36,894.29 516.29,908.96 525.99,908.96 535.69,910.53 545.61,912.79 555.31,912.79 584.64,912.79 594.34,913.92 603.81,913.92 613.51,926.33 623.44,926.33 633.14,916.85 642.84,917.3 652.31,917.3 711.64,916.85" fill="none" stroke="#2f7394" stroke-width="2.2" stroke-linejoin="round" stroke-linecap="round"/>
<polyline points="506.36,881.21 516.29,926.33 525.99,926.33 535.69,933.09 545.61,937.6 555.31,937.6 584.64,937.6 594.34,945.5 603.81,945.5 613.51,948.21 623.44,948.21 633.14,936.93 642.84,940.99 652.31,940.99 662.01,943.92 711.64,943.92" fill="none" stroke="#d09a6a" stroke-width="2.2" stroke-linejoin="round" stroke-linecap="round"/>
<polyline points="506.36,964.22 520.35,964.67 542.91,964.22 565.46,964 584.64,964 610.58,964.67 623.44,964.67 633.14,953.85 642.84,954.75 652.31,954.75 662.01,955.65 711.64,955.65" fill="none" stroke="#70408c" stroke-width="2.2" stroke-linejoin="round" stroke-linecap="round"/>
<polyline points="506.36,901.06 516.29,916.17 525.99,916.17 535.69,917.98 545.61,920.01 555.31,920.01 584.64,920.01 594.34,921.81 603.81,921.81 613.51,933.09 623.44,933.09 633.14,924.07 642.84,925.2 652.31,925.2 662.01,925.87 711.64,925.87" fill="none" stroke="#7b787d" stroke-width="2.2" stroke-linejoin="round" stroke-linecap="round"/>
<polyline points="506.36,859.33 516.29,891.36 525.99,891.36 535.69,895.87 545.61,899.26 555.31,899.26 565.46,899.26 574.94,899.26 584.64,899.26 594.34,903.09 603.81,903.09 613.51,916.85 623.44,916.85 633.14,908.28 642.84,909.41 652.31,909.41 662.01,910.08 711.64,910.08" fill="none" stroke="#e2a6cb" stroke-width="2.2" stroke-linejoin="round" stroke-linecap="round"/>
</g>
<line x1="810.1" y1="899.34" x2="1125.18" y2="899.34" stroke="#9a9a9a" stroke-width="1" stroke-dasharray="3.5,3.5"/>
<line x1="810.1" y1="952.5" x2="1125.18" y2="952.5" stroke="#9a9a9a" stroke-width="1.1" stroke-dasharray="1,4.8"/>
<line x1="810.1" y1="1085.4" x2="810.1" y2="819.6" stroke="#222" stroke-width="1"/>
<line x1="805.1" y1="1085.4" x2="810.1" y2="1085.4" stroke="#222" stroke-width="1"/>
<text transform="translate(798.6,1085.4) rotate(-90)" x="-7.85" y="0" font-family="'Liberation Sans', Arial, Helvetica, sans-serif" font-size="11.3" fill="#000">0.0</text>
<line x1="805.1" y1="1032.24" x2="810.1" y2="1032.24" stroke="#222" stroke-width="1"/>
<text transform="translate(798.6,1032.24) rotate(-90)" x="-7.79" y="0" font-family="'Liberation Sans', Arial, Helvetica, sans-serif" font-size="11.3" fill="#000">0.2</text>
<line x1="805.1" y1="979.08" x2="810.1" y2="979.08" stroke="#222" stroke-width="1"/>
<text transform="translate(798.6,979.08) rotate(-90)" x="-7.91" y="0" font-family="'Liberation Sans', Arial, Helvetica, sans-serif" font-size="11.3" fill="#000">0.4</text>
<line x1="805.1" y1="925.92" x2="810.1" y2="925.92" stroke="#222" stroke-width="1"/>
<text transform="translate(798.6,925.92) rotate(-90)" x="-7.83" y="0" font-family="'Liberation Sans', Arial, Helvetica, sans-serif" font-size="11.3" fill="#000">0.6</text>
<line x1="805.1" y1="872.76" x2="810.1" y2="872.76" stroke="#222" stroke-width="1"/>
<text transform="translate(798.6,872.76) rotate(-90)" x="-7.83" y="0" font-family="'Liberation Sans', Arial, Helvetica, sans-serif" font-size="11.3" fill="#000">0.8</text>
<line x1="805.1" y1="819.6" x2="810.1" y2="819.6" stroke="#222" stroke-width="1"/>
<text transform="translate(798.6,819.6) rotate(-90)" x="-8.06" y="0" font-family="'Liberation Sans', Arial, Helvetica, sans-serif" font-size="11.3" fill="#000">1.0</text>
<line x1="821.4" y1="1096.2" x2="1113.5" y2="1096.2" stroke="#222" stroke-width="1"/>
<line x1="821.4" y1="1096.2" x2="821.4" y2="1101.2" stroke="#222" stroke-width="1"/>
<text x="818.26" y="1112.9" font-family="'Liberation Sans', Arial, Helvetica, sans-serif" font-size="11.3" font-weight="normal" fill="#000">0</text>
<line x1="870.08" y1="1096.2" x2="870.08" y2="1101.2" stroke="#222" stroke-width="1"/>
<text x="863.59" y="1112.9" font-family="'Liberation Sans', Arial, Helvetica, sans-serif" font-size="11.3" font-weight="normal" fill="#000">10</text>
<line x1="918.77" y1="1096.2" x2="918.77" y2="1101.2" stroke="#222" stroke-width="1"/>
<text x="912.42" y="1112.9" font-family="'Liberation Sans', Arial, Helvetica, sans-serif" font-size="11.3" font-weight="normal" fill="#000">20</text>
<line x1="967.45" y1="1096.2" x2="967.45" y2="1101.2" stroke="#222" stroke-width="1"/>
<text x="961.17" y="1112.9" font-family="'Liberation Sans', Arial, Helvetica, sans-serif" font-size="11.3" font-weight="normal" fill="#000">30</text>
<line x1="1016.13" y1="1096.2" x2="1016.13" y2="1101.2" stroke="#222" stroke-width="1"/>
<text x="1009.94" y="1112.9" font-family="'Liberation Sans', Arial, Helvetica, sans-serif" font-size="11.3" font-weight="normal" fill="#000">40</text>
<line x1="1064.82" y1="1096.2" x2="1064.82" y2="1101.2" stroke="#222" stroke-width="1"/>
<text x="1058.53" y="1112.9" font-family="'Liberation Sans', Arial, Helvetica, sans-serif" font-size="11.3" font-weight="normal" fill="#000">50</text>
<line x1="1113.5" y1="1096.2" x2="1113.5" y2="1101.2" stroke="#222" stroke-width="1"/>
<text x="1107.15" y="1112.9" font-family="'Liberation Sans', Arial, Helvetica, sans-serif" font-size="11.3" font-weight="normal" fill="#000">60</text>
<text transform="translate(779.9,955.6) rotate(-90)" x="-91.04" y="0" font-family="'Liberation Sans', Arial, Helvetica, sans-serif" font-size="20.9" fill="#000">Concordance Index</text>
<text x="915.62" y="1130" font-family="'Liberation Sans', Arial, Helvetica, sans-serif" font-size="20.6" font-weight="normal" fill="#000">Time (months)</text>
<g>
<polyline points="845.72,948.21 851.36,950.01 855.87,930.84 860.38,912.34 864.9,912.79 870.53,908.96 875.05,907.15 879.56,903.09 885.2,902.64 889.71,898.58 895.35,898.13 900.99,895.87 906.63,895.42 910.01,895.42 914.52,897.45 919.03,896.55 926.93,896.32 933.7,897 940.46,896.32 947.23,897 951.74,897.68 958.51,896.55 965.28,895.42 972.05,894.29 982.2,893.16 985.58,895.87 990.09,896.55 999.12,896.55 1008.14,895.87 1019.42,895.42 1030.7,894.74 1041.98,894.74 1051,894.07 1064.53,893.62 1075.81,893.16 1091.6,893.16 1100.63,893.62 1113.71,893.62" fill="none" stroke="#9e1c24" stroke-width="2.2" stroke-linejoin="round" stroke-linecap="round"/>
<polyline points="845.72,924.07 855.87,925.2 860.38,933.09 866.02,936.48 870.53,934.22 879.56,930.39 884.07,934.67 889.71,932.64 899.86,931.96 917.91,931.96 931.44,934.22 940.46,934.9 963.02,937.6 985.58,936.48 1008.14,936.48 1041.98,937.6 1075.81,936.48 1113.71,936.48" fill="none" stroke="#6fa33d" stroke-width="2.2" stroke-linejoin="round" stroke-linecap="round"/>
<polyline points="845.72,926.33 855.87,925.87 860.38,933.77 866.02,937.15 870.53,935.35 879.56,930.84 884.07,937.15 889.71,935.35 899.86,934.9 917.91,934.22 931.44,936.48 940.46,936.93 963.02,939.41 985.58,937.15 1008.14,937.15 1041.98,938.06 1075.81,936.48 1113.71,937.6" fill="none" stroke="#2f7394" stroke-width="2.2" stroke-linejoin="round" stroke-linecap="round"/>
<polyline points="845.72,938.06 851.36,936.48 855.87,936.48 860.38,939.18 866.02,941.44 870.53,939.86 875.05,938.28 879.56,934.22 884.07,934.9 889.71,932.64 899.86,931.96 917.91,930.84 922.42,930.39 931.44,931.96 940.46,933.09 949.49,933.77 963.02,936.03 976.56,937.15 985.58,936.03 1008.14,936.48 1030.7,937.6 1053.26,937.15 1075.81,938.06 1113.71,938.73" fill="none" stroke="#d09a6a" stroke-width="2.2" stroke-linejoin="round" stroke-linecap="round"/>
<polyline points="845.72,961.29 851.36,951.59 855.87,951.14 860.38,947.76 864.9,949.56 870.53,948.88 875.05,948.88 879.56,943.92 885.2,945.5 889.71,946.63 895.35,946.63 899.86,945.05 908.88,945.05 915.65,943.7 922.42,944.37 931.44,944.37 940.46,943.7 951.74,944.37 963.02,945.05 972.05,945.95 985.58,945.95 990.09,945.05 996.86,944.37 1008.14,945.05 1030.7,945.5 1053.26,945.5 1075.81,945.95 1113.71,945.95" fill="none" stroke="#70408c" stroke-width="2.2" stroke-linejoin="round" stroke-linecap="round"/>
<polyline points="845.72,925.2 855.87,925.2 860.38,933.09 866.02,935.35 870.53,934.22 879.56,930.84 884.07,935.35 889.71,934.22 899.86,933.09 917.91,933.09 931.44,934.9 940.46,936.03 963.02,938.06 985.58,936.48 1008.14,937.15 1041.98,937.6 1075.81,937.15 1113.71,937.15" fill="none" stroke="#7b787d" stroke-width="2.2" stroke-linejoin="round" stroke-linecap="round"/>
<polyline points="845.72,918.43 855.87,920.01 860.38,929.03 866.02,931.96 870.53,930.84 875.05,930.16 879.56,929.03 884.07,932.64 889.71,930.84 899.86,930.84 908.88,930.84 917.91,930.84 922.42,930.84 931.44,931.96 940.46,933.09 949.49,934.22 958.51,935.35 967.53,936.48 976.56,935.35 985.58,934.9 994.6,935.8 1008.14,935.35 1019.42,935.35 1030.7,936.03 1041.98,936.03 1053.26,935.35 1075.81,934.67 1098.37,934.9 1113.71,935.35" fill="none" stroke="#e2a6cb" stroke-width="2.2" stroke-linejoin="round" stroke-linecap="round"/>
</g>
<clipPath id="clb1"><rect x="65.7" y="463.9" width="315.3" height="287.4"/></clipPath>
<g clip-path="url(#clb1)">
<polyline points="76.66,474.85 88.27,474.39 106.85,474.16 110.34,476.02 113.82,479.04 118.47,479.5 130.08,477.87 144.02,476.71 162.6,475.55 185.83,474.62 209.06,474.16 232.29,474.16 255.52,474.16 278.75,474.62 301.97,474.85 325.2,475.55 343.79,476.02 355.4,476.48 369.34,476.95" fill="none" stroke="#9e1c24" stroke-width="2.2" stroke-linejoin="round" stroke-linecap="round"/>
<polyline points="76.66,689.26 81.3,682.29 87.11,674.16 92.92,684.61 99.88,685.77 109.18,692.74 116.14,693.9 123.11,690.42 132.4,684.61 144.02,677.64 150.99,675.32 160.28,666.03 164.92,668.35 178.86,673 188.15,681.13 195.12,678.8 202.09,681.82 209.06,682.29 220.67,682.98 234.61,681.13 241.58,676.48 250.87,677.64 262.49,678.8 271.78,676.48 278.75,666.03 285.71,667.19 295.01,676.48 301.97,673 308.94,670.67 318.23,673 325.2,673 329.85,679.97 336.82,683.45 341.46,684.15 348.43,674.85 353.08,679.97 360.05,673 369.34,674.16" fill="none" stroke="#6fa33d" stroke-width="2.2" stroke-linejoin="round" stroke-linecap="round"/>
<polyline points="76.66,687.63 81.3,680.66 87.11,674.39 92.92,682.29 99.88,683.68 109.18,688.79 116.14,686.47 123.11,685.31 132.4,681.82 144.02,676.02 150.99,671.37 157.96,664.4 162.6,663.24 169.57,666.72 178.86,669.05 183.51,671.37 188.15,677.18 192.8,672.07 197.44,675.32 204.41,676.71 209.06,679.04 220.67,679.97 227.64,681.82 234.61,681.82 241.58,674.85 246.23,676.71 255.52,676.02 267.13,674.85 271.78,676.02 278.75,667.42 283.39,667.89 290.36,673 295.01,678.34 301.97,675.32 311.27,679.5 315.91,681.82 320.56,678.34 325.2,681.82 329.85,686.47 336.82,688.79 341.46,686.93 348.43,681.82 353.08,689.26 357.72,686.47 369.34,685.08" fill="none" stroke="#2f7394" stroke-width="2.2" stroke-linejoin="round" stroke-linecap="round"/>
<polyline points="76.66,712.49 80.14,700.87 87.11,678.11 92.92,688.1 99.88,689.26 109.18,695.06 113.82,699.71 123.11,693.9 130.08,691.58 134.73,690.42 144.02,695.06 150.99,696.92 157.96,696.23 162.6,693.9 167.25,697.39 176.54,700.41 185.83,700.41 192.8,702.03 197.44,700.87 202.09,698.55 209.06,700.41 218.35,699.71 227.64,696.23 236.93,693.9 243.9,692.74 250.87,695.06 260.16,695.06 267.13,693.9 274.1,692.74 278.75,686.47 288.04,686.93 295.01,689.26 301.97,688.1 306.62,683.45 318.23,682.29 325.2,684.61 336.82,689.26 343.79,690.42 348.43,688.1 357.72,684.61 369.34,682.29" fill="none" stroke="#d09a6a" stroke-width="2.2" stroke-linejoin="round" stroke-linecap="round"/>
<polyline points="76.66,692.74 81.3,698.08 88.27,703.19 95.24,707.84 102.21,710.16 109.18,712.02 113.82,710.63 118.47,704.36 125.44,705.52 132.4,703.66 139.37,704.36 146.34,702.03 155.63,703.19 162.6,701.34 174.22,703.19 185.83,704.36 197.44,705.52 209.06,706.68 220.67,707.84 227.64,707.38 232.29,705.05 236.93,702.73 243.9,703.19 255.52,705.05 264.81,705.98 274.1,704.36 283.39,706.68 290.36,704.36 301.97,705.98 313.59,707.38 325.2,709 336.82,711.32 346.11,714.34 348.43,712.49 353.08,705.52 360.05,705.98 369.34,707.38" fill="none" stroke="#70408c" stroke-width="2.2" stroke-linejoin="round" stroke-linecap="round"/>
<polyline points="76.66,685.77 81.3,678.8 87.11,672.53 92.92,680.43 99.88,681.82 109.18,686.93 116.14,684.61 123.11,683.45 132.4,679.97 144.02,674.16 150.99,669.51 157.96,662.54 162.6,661.38 169.57,664.87 178.86,667.19 183.51,669.51 188.15,675.32 192.8,670.21 197.44,673.46 204.41,674.85 209.06,677.18 220.67,678.11 227.64,679.97 234.61,679.97 241.58,673 246.23,674.85 255.52,674.16 267.13,673 271.78,674.16 278.75,665.56 283.39,666.03 290.36,671.14 295.01,676.48 301.97,673.46 311.27,677.64 315.91,679.97 320.56,676.48 325.2,679.97 329.85,684.61 336.82,686.93 341.46,685.08 348.43,679.97 353.08,687.4 357.72,684.61 369.34,684.61" fill="none" stroke="#7b787d" stroke-width="2.2" stroke-linejoin="round" stroke-linecap="round"/>
<polyline points="76.66,705.52 81.3,692.74 87.11,682.29 92.92,692.74 99.88,690.42 109.18,696.23 116.14,697.39 123.11,695.06 132.4,689.26 144.02,684.61 150.99,679.97 160.28,670.21 164.92,671.84 178.86,676.48 188.15,683.45 195.12,681.13 202.09,685.08 209.06,685.08 220.67,686.93 229.97,688.1 234.61,686.47 241.58,678.8 250.87,681.13 260.16,682.29 267.13,679.5 274.1,678.8 278.75,667.19 285.71,667.89 295.01,677.18 301.97,676.48 311.27,674.16 320.56,673 329.85,681.13 336.82,683.45 341.46,682.29 348.43,676.48 353.08,680.43 360.05,679.97 369.34,680.43" fill="none" stroke="#e2a6cb" stroke-width="2.2" stroke-linejoin="round" stroke-linecap="round"/>
</g>
<line x1="65.7" y1="716.4" x2="381" y2="716.4" stroke="#000" stroke-width="1.3" stroke-dasharray="4.5,3.5"/>
<rect x="65.7" y="463.9" width="315.3" height="287.4" fill="none" stroke="#111" stroke-width="1.35"/>
<line x1="60.7" y1="716.4" x2="65.7" y2="716.4" stroke="#222" stroke-width="1"/>
<text transform="translate(54.2,716.4) rotate(-90)" x="-7.84" y="0" font-family="'Liberation Sans', Arial, Helvetica, sans-serif" font-size="11.3" fill="#000">0.5</text>
<line x1="60.7" y1="668" x2="65.7" y2="668" stroke="#222" stroke-width="1"/>
<text transform="translate(54.2,668) rotate(-90)" x="-7.83" y="0" font-family="'Liberation Sans', Arial, Helvetica, sans-serif" font-size="11.3" fill="#000">0.6</text>
<line x1="60.7" y1="619.6" x2="65.7" y2="619.6" stroke="#222" stroke-width="1"/>
<text transform="translate(54.2,619.6) rotate(-90)" x="-7.79" y="0" font-family="'Liberation Sans', Arial, Helvetica, sans-serif" font-size="11.3" fill="#000">0.7</text>
<line x1="60.7" y1="571.2" x2="65.7" y2="571.2" stroke="#222" stroke-width="1"/>
<text transform="translate(54.2,571.2) rotate(-90)" x="-7.83" y="0" font-family="'Liberation Sans', Arial, Helvetica, sans-serif" font-size="11.3" fill="#000">0.8</text>
<line x1="60.7" y1="522.8" x2="65.7" y2="522.8" stroke="#222" stroke-width="1"/>
<text transform="translate(54.2,522.8) rotate(-90)" x="-7.81" y="0" font-family="'Liberation Sans', Arial, Helvetica, sans-serif" font-size="11.3" fill="#000">0.9</text>
<line x1="60.7" y1="474.4" x2="65.7" y2="474.4" stroke="#222" stroke-width="1"/>
<text transform="translate(54.2,474.4) rotate(-90)" x="-8.06" y="0" font-family="'Liberation Sans', Arial, Helvetica, sans-serif" font-size="11.3" fill="#000">1.0</text>
<line x1="103.6" y1="751.3" x2="103.6" y2="756.3" stroke="#222" stroke-width="1"/>
<text x="97.11" y="768.1" font-family="'Liberation Sans', Arial, Helvetica, sans-serif" font-size="11.3" font-weight="normal" fill="#000">10</text>
<line x1="156.74" y1="751.3" x2="156.74" y2="756.3" stroke="#222" stroke-width="1"/>
<text x="150.39" y="768.1" font-family="'Liberation Sans', Arial, Helvetica, sans-serif" font-size="11.3" font-weight="normal" fill="#000">20</text>
<line x1="209.88" y1="751.3" x2="209.88" y2="756.3" stroke="#222" stroke-width="1"/>
<text x="203.6" y="768.1" font-family="'Liberation Sans', Arial, Helvetica, sans-serif" font-size="11.3" font-weight="normal" fill="#000">30</text>
<line x1="263.02" y1="751.3" x2="263.02" y2="756.3" stroke="#222" stroke-width="1"/>
<text x="256.83" y="768.1" font-family="'Liberation Sans', Arial, Helvetica, sans-serif" font-size="11.3" font-weight="normal" fill="#000">40</text>
<line x1="316.16" y1="751.3" x2="316.16" y2="756.3" stroke="#222" stroke-width="1"/>
<text x="309.87" y="768.1" font-family="'Liberation Sans', Arial, Helvetica, sans-serif" font-size="11.3" font-weight="normal" fill="#000">50</text>
<line x1="369.3" y1="751.3" x2="369.3" y2="756.3" stroke="#222" stroke-width="1"/>
<text x="362.95" y="768.1" font-family="'Liberation Sans', Arial, Helvetica, sans-serif" font-size="11.3" font-weight="normal" fill="#000">60</text>
<text transform="translate(36,611.5) rotate(-90)" x="-151.4" y="0" font-family="'Liberation Sans', Arial, Helvetica, sans-serif" font-size="18.68" fill="#000">Time-depedent area under the curve</text>
<text x="163.62" y="784.5" font-family="'Liberation Sans', Arial, Helvetica, sans-serif" font-size="20.6" font-weight="normal" fill="#000">Time (months)</text>
<clipPath id="clb2"><rect x="436.6" y="464.9" width="315.4" height="287.4"/></clipPath>
<g clip-path="url(#clb2)">
<polyline points="448.5,501.8 460.17,501.8 471.84,503.2 483.51,511.4 495.18,547.4 506.85,540.9 518.52,531.4 530.19,526.3 541.86,521.5 553.53,521.5 565.2,521.5 576.87,526 588.54,524.5 600.21,525.1 611.88,513.9 623.55,514.3 635.22,513.9 646.89,515.3 658.56,517.2 670.23,521.9 681.9,527 693.57,545.3 705.24,550.8 716.91,541.6 728.58,560.6 740.25,578.1" fill="none" stroke="#9e1c24" stroke-width="2.2" stroke-linejoin="round" stroke-linecap="round"/>
<polyline points="448.5,566.4 460.17,566.4 471.84,577.4 483.51,602 495.18,628.5 506.85,626.3 518.52,619 530.19,613.1 541.86,600.7 553.53,600.7 565.2,594.9 576.87,582.5 588.54,564.2 600.21,553.7 611.88,569.3 623.55,571.1 635.22,575.6 646.89,580.3 658.56,581 670.23,600.4 681.9,593.4 693.57,567.9 705.24,571.5 716.91,559.9 728.58,572.3 740.25,575.9" fill="none" stroke="#6fa33d" stroke-width="2.2" stroke-linejoin="round" stroke-linecap="round"/>
<polyline points="448.5,594.9 460.17,594.9 471.84,592.7 483.51,603.9 495.18,624.1 506.85,620 518.52,608 530.19,597.1 541.86,593.7 553.53,593.7 565.2,586.9 576.87,573.7 588.54,566.4 600.21,556.2 611.88,571.5 623.55,573 635.22,578.1 646.89,583.2 658.56,582.9 670.23,602.9 681.9,591.7 693.57,570.4 705.24,574.5 716.91,555.5 728.58,565 740.25,556.2" fill="none" stroke="#2f7394" stroke-width="2.2" stroke-linejoin="round" stroke-linecap="round"/>
<polyline points="448.5,630.7 460.17,630.7 471.84,655.5 483.51,653.6 495.18,673.7 506.85,682.5 518.52,691.2 530.19,699.3 541.86,683.6 553.53,683.6 565.2,685.4 576.87,686.6 588.54,666.4 600.21,662.8 611.88,667.2 623.55,667.2 635.22,668.2 646.89,669.3 658.56,670.5 670.23,676.4 681.9,678.8 693.57,654.5 705.24,655.9 716.91,658.1 728.58,664.2 740.25,675.9" fill="none" stroke="#d09a6a" stroke-width="2.2" stroke-linejoin="round" stroke-linecap="round"/>
<polyline points="448.7,733.9 463.6,733.9 473.1,734.4 487.3,735.5 507,735.9 528.2,737.8 553.5,737.8 577.1,741.3 588.1,742.2 600.7,744.6 613.3,746 623.6,746.6 635.4,748.9 646.4,744.4 659,746.8 670.1,748.9 681.9,745.7 693.7,729.5 705.5,731 717.3,717.3 740.2,717.3" fill="none" stroke="#70408c" stroke-width="2.2" stroke-linejoin="round" stroke-linecap="round"/>
<polyline points="448.5,595.8 460.17,595.8 471.84,593.6 483.51,604.8 495.18,625 506.85,620.9 518.52,608.9 530.19,598 541.86,594.6 553.53,594.6 565.2,587.8 576.87,574.6 588.54,567.3 600.21,557.1 611.88,572.4 623.55,573.9 635.22,579 646.89,584.1 658.56,583.8 670.23,603.8 681.9,592.6 693.57,571.3 705.24,575.4 716.91,556.4 728.58,565.9 740.25,557.1" fill="none" stroke="#7b787d" stroke-width="2.2" stroke-linejoin="round" stroke-linecap="round"/>
<polyline points="448.5,575.5 460.17,575.5 471.84,580 483.51,602.2 495.18,621.5 506.85,618.2 518.52,609.5 530.19,601.5 541.86,589.1 553.53,589.1 565.2,583.9 576.87,570.1 588.54,554.7 600.21,546.7 611.88,563.1 623.55,564.2 635.22,567.9 646.89,572.3 658.56,571.8 670.23,592.7 681.9,582.5 693.57,565 705.24,568.6 716.91,551.1 728.58,559.9 740.25,552.6" fill="none" stroke="#e2a6cb" stroke-width="2.2" stroke-linejoin="round" stroke-linecap="round"/>
</g>
<line x1="436.6" y1="717.5" x2="752" y2="717.5" stroke="#000" stroke-width="1.3" stroke-dasharray="4.5,3.5"/>
<rect x="436.6" y="464.9" width="315.4" height="287.4" fill="none" stroke="#111" stroke-width="1.35"/>
<line x1="431.6" y1="717.5" x2="436.6" y2="717.5" stroke="#222" stroke-width="1"/>
<text transform="translate(425.1,717.5) rotate(-90)" x="-7.84" y="0" font-family="'Liberation Sans', Arial, Helvetica, sans-serif" font-size="11.3" fill="#000">0.5</text>
<line x1="431.6" y1="669.04" x2="436.6" y2="669.04" stroke="#222" stroke-width="1"/>
<text transform="translate(425.1,669.04) rotate(-90)" x="-7.83" y="0" font-family="'Liberation Sans', Arial, Helvetica, sans-serif" font-size="11.3" fill="#000">0.6</text>
<line x1="431.6" y1="620.58" x2="436.6" y2="620.58" stroke="#222" stroke-width="1"/>
<text transform="translate(425.1,620.58) rotate(-90)" x="-7.79" y="0" font-family="'Liberation Sans', Arial, Helvetica, sans-serif" font-size="11.3" fill="#000">0.7</text>
<line x1="431.6" y1="572.12" x2="436.6" y2="572.12" stroke="#222" stroke-width="1"/>
<text transform="translate(425.1,572.12) rotate(-90)" x="-7.83" y="0" font-family="'Liberation Sans', Arial, Helvetica, sans-serif" font-size="11.3" fill="#000">0.8</text>
<line x1="431.6" y1="523.66" x2="436.6" y2="523.66" stroke="#222" stroke-width="1"/>
<text transform="translate(425.1,523.66) rotate(-90)" x="-7.81" y="0" font-family="'Liberation Sans', Arial, Helvetica, sans-serif" font-size="11.3" fill="#000">0.9</text>
<line x1="431.6" y1="475.2" x2="436.6" y2="475.2" stroke="#222" stroke-width="1"/>
<text transform="translate(425.1,475.2) rotate(-90)" x="-8.06" y="0" font-family="'Liberation Sans', Arial, Helvetica, sans-serif" font-size="11.3" fill="#000">1.0</text>
<line x1="448.7" y1="752.3" x2="448.7" y2="757.3" stroke="#222" stroke-width="1"/>
<text x="445.57" y="769.1" font-family="'Liberation Sans', Arial, Helvetica, sans-serif" font-size="11.3" font-weight="normal" fill="#000">5</text>
<line x1="507" y1="752.3" x2="507" y2="757.3" stroke="#222" stroke-width="1"/>
<text x="500.51" y="769.1" font-family="'Liberation Sans', Arial, Helvetica, sans-serif" font-size="11.3" font-weight="normal" fill="#000">10</text>
<line x1="565.3" y1="752.3" x2="565.3" y2="757.3" stroke="#222" stroke-width="1"/>
<text x="558.82" y="769.1" font-family="'Liberation Sans', Arial, Helvetica, sans-serif" font-size="11.3" font-weight="normal" fill="#000">15</text>
<line x1="623.6" y1="752.3" x2="623.6" y2="757.3" stroke="#222" stroke-width="1"/>
<text x="617.25" y="769.1" font-family="'Liberation Sans', Arial, Helvetica, sans-serif" font-size="11.3" font-weight="normal" fill="#000">20</text>
<line x1="681.9" y1="752.3" x2="681.9" y2="757.3" stroke="#222" stroke-width="1"/>
<text x="675.57" y="769.1" font-family="'Liberation Sans', Arial, Helvetica, sans-serif" font-size="11.3" font-weight="normal" fill="#000">25</text>
<line x1="740.2" y1="752.3" x2="740.2" y2="757.3" stroke="#222" stroke-width="1"/>
<text x="733.92" y="769.1" font-family="'Liberation Sans', Arial, Helvetica, sans-serif" font-size="11.3" font-weight="normal" fill="#000">30</text>
<text transform="translate(408.9,611.4) rotate(-90)" x="-151.4" y="0" font-family="'Liberation Sans', Arial, Helvetica, sans-serif" font-size="18.68" fill="#000">Time-depedent area under the curve</text>
<text x="538.52" y="784.5" font-family="'Liberation Sans', Arial, Helvetica, sans-serif" font-size="20.6" font-weight="normal" fill="#000">Time (months)</text>
<clipPath id="clb3"><rect x="809.2" y="464.4" width="316" height="287.6"/></clipPath>
<g clip-path="url(#clb3)">
<polyline points="820.39,609.81 826.2,603.77 832.01,605.17 836.66,606.1 842.46,603.77 847.11,596.34 852.92,592.16 858.72,585.89 863.37,583.57 869.18,584.26 873.82,581.94 878.47,583.57 884.27,577.29 890.08,576.6 894.73,576.6 900.53,578.22 906.34,577.76 913.31,580.08 921.44,581.24 927.25,577.76 931.89,574.27 936.54,573.58 943.51,570.33 948.15,570.33 953.96,561.5 959.77,556.85 964.41,554.99 970.22,550.35 976.03,548.72 981.84,546.4 987.64,545.24 994.61,544.31 1001.58,544.77 1006.23,548.03 1012.03,547.56 1017.84,549.42 1022.49,550.58 1028.29,549.88 1034.1,546.4 1042.23,546.4 1048.04,547.1 1053.84,548.49 1059.65,548.95 1065.46,550.81 1071.27,552.9 1075.91,552.21 1081.72,551.28 1087.53,551.51 1092.17,552.9 1096.82,552.21 1102.62,552.21 1108.43,548.72 1113.54,544.77" fill="none" stroke="#9e1c24" stroke-width="2.2" stroke-linejoin="round" stroke-linecap="round"/>
<polyline points="820.39,671.84 826.2,681.13 832.01,682.29 836.66,682.29 841.3,678.8 847.11,669.51 857.56,667.65 863.37,673.46 869.18,668.35 873.82,665.56 878.47,666.03 883.11,664.17 890.08,663.01 894.73,664.17 899.37,663.24 906.34,661.38 913.31,664.87 920.28,664.87 927.25,663.24 933.05,667.19 936.54,666.03 943.51,666.49 948.15,667.19 952.8,669.51 959.77,671.84 966.74,674.16 973.7,674.62 979.51,674.62 985.32,675.78 991.13,678.11 995.77,676.95 1001.58,669.51 1006.23,666.03 1010.87,667.89 1017.84,662.54 1022.49,660.69 1029.45,661.38 1036.42,662.54 1042.23,660.22 1044.55,657.2 1049.2,664.17 1055.01,662.54 1059.65,663.7 1064.3,660.22 1071.27,661.38 1075.91,663.24 1080.56,662.54 1085.2,667.19 1089.85,667.65 1096.82,669.51 1101.46,668.35 1113.54,669.51" fill="none" stroke="#6fa33d" stroke-width="2.2" stroke-linejoin="round" stroke-linecap="round"/>
<polyline points="820.39,681.36 826.2,689.49 832.01,691.11 836.66,689.49 841.3,686.47 847.11,680.89 857.56,678.57 863.37,681.36 869.18,675.55 873.82,672.53 880.79,670.91 890.08,667.89 894.73,668.58 900.53,668.58 906.34,666.96 913.31,669.28 922.6,670.21 927.25,672.53 933.05,673.93 936.54,673.23 943.51,672.53 948.15,673.23 952.8,675.55 959.77,677.87 966.74,679.5 973.7,680.2 979.51,680.2 985.32,681.36 991.13,683.68 995.77,683.22 1001.58,676.71 1006.23,674.39 1010.87,676.71 1017.84,670.91 1022.49,669.74 1029.45,671.6 1036.42,672.53 1042.23,669.28 1044.55,666.96 1049.2,673.93 1055.01,673.23 1059.65,674.39 1064.3,672.53 1071.27,674.39 1075.91,675.55 1080.56,674.39 1085.2,677.87 1089.85,679.04 1096.82,680.89 1101.46,679.5 1113.54,680.2" fill="none" stroke="#2f7394" stroke-width="2.2" stroke-linejoin="round" stroke-linecap="round"/>
<polyline points="820.39,671.84 826.2,678.8 832.01,678.34 836.66,682.29 841.3,678.8 847.11,673 857.56,673 863.37,679.97 869.18,678.8 873.82,676.48 880.79,677.64 890.08,677.64 894.73,679.5 900.53,679.5 906.34,678.11 913.31,681.13 920.28,680.66 927.25,677.18 931.89,678.8 936.54,677.64 943.51,679.97 948.15,681.13 953.96,684.61 959.77,686.47 964.41,686.93 971.38,685.77 978.35,685.77 985.32,685.77 992.29,686.24 996.93,684.61 1001.58,681.13 1006.23,678.8 1010.87,678.8 1017.84,678.11 1022.49,675.32 1029.45,676.02 1036.42,675.32 1042.23,674.85 1044.55,673.46 1049.2,677.18 1055.01,675.32 1059.65,676.48 1064.3,673 1071.27,673.46 1075.91,674.85 1080.56,673 1085.2,676.48 1089.85,676.48 1096.82,675.32 1108.43,677.64 1113.54,678.8" fill="none" stroke="#d09a6a" stroke-width="2.2" stroke-linejoin="round" stroke-linecap="round"/>
<polyline points="820.39,706.21 826.2,709.7 832.01,709.7 836.66,708.54 841.3,710.86 847.11,708.3 857.56,709.7 863.37,709 869.18,710.16 876.14,711.32 885.44,712.49 894.73,713.65 904.02,714.11 913.31,714.81 921.44,713.65 927.25,714.81 936.54,716.43 943.51,715.97 948.15,715.51 955.12,715.97 962.09,714.11 969.06,714.81 976.03,715.97 983,717.13 989.97,717.13 996.93,715.51 1006.23,713.18 1010.87,713.65 1017.84,714.81 1027.13,715.51 1036.42,716.67 1038.75,717.13 1043.39,714.11 1050.36,715.27 1057.33,715.51 1066.62,716.67 1075.91,717.6 1080.56,714.81 1087.53,715.97 1096.82,717.6 1103.79,718.29 1113.54,719.92" fill="none" stroke="#70408c" stroke-width="2.2" stroke-linejoin="round" stroke-linecap="round"/>
<polyline points="820.39,682.29 826.2,690.42 832.01,692.04 836.66,690.42 841.3,687.4 847.11,681.82 857.56,679.5 863.37,682.29 869.18,676.48 873.82,673.46 880.79,671.84 890.08,668.82 894.73,669.51 900.53,669.51 906.34,667.89 913.31,670.21 922.6,671.14 927.25,673.46 933.05,674.85 936.54,674.16 943.51,673.46 948.15,674.16 952.8,676.48 959.77,678.8 966.74,680.43 973.7,681.13 979.51,681.13 985.32,682.29 991.13,684.61 995.77,684.15 1001.58,677.64 1006.23,675.32 1010.87,677.64 1017.84,671.84 1022.49,670.67 1029.45,672.53 1036.42,673.46 1042.23,670.21 1044.55,667.89 1049.2,674.85 1055.01,674.16 1059.65,675.32 1064.3,673.46 1071.27,675.32 1075.91,676.48 1080.56,675.32 1085.2,678.8 1089.85,679.97 1096.82,681.82 1101.46,680.43 1113.54,681.13" fill="none" stroke="#7b787d" stroke-width="2.2" stroke-linejoin="round" stroke-linecap="round"/>
<polyline points="820.39,677.64 826.2,685.08 832.01,686.47 836.66,685.08 841.3,682.29 847.11,676.48 857.56,675.32 863.37,679.97 869.18,674.62 873.82,671.14 880.79,670.21 890.08,667.65 894.73,668.35 900.53,667.89 906.34,666.72 913.31,669.05 922.6,669.98 927.25,671.84 933.05,673.69 936.54,672.53 943.51,672.53 948.15,673 952.8,674.62 959.77,676.48 966.74,678.11 973.7,678.8 979.51,678.8 985.32,679.97 991.13,681.13 995.77,681.13 1001.58,674.85 1006.23,673 1010.87,674.16 1017.84,669.51 1022.49,667.19 1029.45,667.89 1036.42,668.35 1042.23,666.03 1044.55,663.24 1049.2,669.51 1055.01,668.35 1059.65,669.51 1064.3,667.19 1071.27,668.35 1075.91,669.51 1080.56,669.51 1085.2,673 1089.85,673.46 1096.82,674.85 1101.46,674.16 1113.54,674.85" fill="none" stroke="#e2a6cb" stroke-width="2.2" stroke-linejoin="round" stroke-linecap="round"/>
</g>
<line x1="809.2" y1="717.1" x2="1125.2" y2="717.1" stroke="#000" stroke-width="1.3" stroke-dasharray="4.5,3.5"/>
<rect x="809.2" y="464.4" width="316" height="287.6" fill="none" stroke="#111" stroke-width="1.35"/>
<line x1="804.2" y1="717.1" x2="809.2" y2="717.1" stroke="#222" stroke-width="1"/>
<text transform="translate(797.7,717.1) rotate(-90)" x="-7.84" y="0" font-family="'Liberation Sans', Arial, Helvetica, sans-serif" font-size="11.3" fill="#000">0.5</text>
<line x1="804.2" y1="668.7" x2="809.2" y2="668.7" stroke="#222" stroke-width="1"/>
<text transform="translate(797.7,668.7) rotate(-90)" x="-7.83" y="0" font-family="'Liberation Sans', Arial, Helvetica, sans-serif" font-size="11.3" fill="#000">0.6</text>
<line x1="804.2" y1="620.3" x2="809.2" y2="620.3" stroke="#222" stroke-width="1"/>
<text transform="translate(797.7,620.3) rotate(-90)" x="-7.79" y="0" font-family="'Liberation Sans', Arial, Helvetica, sans-serif" font-size="11.3" fill="#000">0.7</text>
<line x1="804.2" y1="571.9" x2="809.2" y2="571.9" stroke="#222" stroke-width="1"/>
<text transform="translate(797.7,571.9) rotate(-90)" x="-7.83" y="0" font-family="'Liberation Sans', Arial, Helvetica, sans-serif" font-size="11.3" fill="#000">0.8</text>
<line x1="804.2" y1="523.5" x2="809.2" y2="523.5" stroke="#222" stroke-width="1"/>
<text transform="translate(797.7,523.5) rotate(-90)" x="-7.81" y="0" font-family="'Liberation Sans', Arial, Helvetica, sans-serif" font-size="11.3" fill="#000">0.9</text>
<line x1="804.2" y1="475.1" x2="809.2" y2="475.1" stroke="#222" stroke-width="1"/>
<text transform="translate(797.7,475.1) rotate(-90)" x="-8.06" y="0" font-family="'Liberation Sans', Arial, Helvetica, sans-serif" font-size="11.3" fill="#000">1.0</text>
<line x1="847.6" y1="752" x2="847.6" y2="757" stroke="#222" stroke-width="1"/>
<text x="841.11" y="768.8" font-family="'Liberation Sans', Arial, Helvetica, sans-serif" font-size="11.3" font-weight="normal" fill="#000">10</text>
<line x1="900.78" y1="752" x2="900.78" y2="757" stroke="#222" stroke-width="1"/>
<text x="894.43" y="768.8" font-family="'Liberation Sans', Arial, Helvetica, sans-serif" font-size="11.3" font-weight="normal" fill="#000">20</text>
<line x1="953.96" y1="752" x2="953.96" y2="757" stroke="#222" stroke-width="1"/>
<text x="947.68" y="768.8" font-family="'Liberation Sans', Arial, Helvetica, sans-serif" font-size="11.3" font-weight="normal" fill="#000">30</text>
<line x1="1007.14" y1="752" x2="1007.14" y2="757" stroke="#222" stroke-width="1"/>
<text x="1000.95" y="768.8" font-family="'Liberation Sans', Arial, Helvetica, sans-serif" font-size="11.3" font-weight="normal" fill="#000">40</text>
<line x1="1060.32" y1="752" x2="1060.32" y2="757" stroke="#222" stroke-width="1"/>
<text x="1054.03" y="768.8" font-family="'Liberation Sans', Arial, Helvetica, sans-serif" font-size="11.3" font-weight="normal" fill="#000">50</text>
<line x1="1113.5" y1="752" x2="1113.5" y2="757" stroke="#222" stroke-width="1"/>
<text x="1107.15" y="768.8" font-family="'Liberation Sans', Arial, Helvetica, sans-serif" font-size="11.3" font-weight="normal" fill="#000">60</text>
<text transform="translate(782,610.3) rotate(-90)" x="-151.4" y="0" font-family="'Liberation Sans', Arial, Helvetica, sans-serif" font-size="18.68" fill="#000">Time-depedent area under the curve</text>
<text x="907.72" y="788" font-family="'Liberation Sans', Arial, Helvetica, sans-serif" font-size="20.6" font-weight="normal" fill="#000">Time (months)</text>
<clipPath id="cld1"><rect x="65.3" y="1153.9" width="315.9" height="287.4"/></clipPath>
<g clip-path="url(#cld1)">
<polyline points="76.74,1191.64 82.83,1189.45 87.7,1189.94 92.57,1194.08 97.44,1196.03 103.53,1194.08 112.06,1193.59 119.37,1194.32 125.46,1192.86 131.55,1192.86 138.86,1191.64 146.16,1189.21 151.04,1189.45 157.13,1186.77 162,1186.29 170.52,1186.77 180.27,1186.77 183.92,1186.29 188.79,1188.72 194.88,1187.99 202.19,1187.5 207.06,1188.23 214.37,1186.29 220.46,1185.07 226.55,1185.8 230.21,1191.64 233.86,1191.16 238.73,1191.89 247.26,1194.81 253.35,1191.16 258.22,1189.94 267.97,1189.45 274.06,1188.72 280.15,1190.67 286.24,1192.38 289.89,1194.08 295.98,1194.08 300.85,1198.47 306.94,1198.95 311.81,1200.41 316.69,1199.68 321.56,1201.63 326.43,1201.63 331.3,1208.7 336.18,1210.65 342.27,1212.59 347.14,1197.98 353.23,1208.7 358.1,1230.13 362.97,1236.22 369.06,1246.46" fill="none" stroke="#9e1c24" stroke-width="2.2" stroke-linejoin="round" stroke-linecap="round"/>
<polyline points="76.74,1390.91 82.83,1398.22 87.7,1395.79 92.57,1398.22 98.66,1382.39 103.53,1379.95 112.06,1382.39 119.37,1368.99 125.46,1365.33 131.55,1362.9 140.07,1355.59 146.16,1358.76 151.04,1360.46 155.91,1359.24 162,1357.54 170.52,1357.54 180.27,1357.54 193.67,1357.54 198.54,1361.68 204.63,1362.17 209.5,1362.9 214.37,1363.63 220.46,1362.17 226.55,1362.9 236.3,1362.17 242.39,1362.9 248.48,1363.63 253.35,1363.63 263.09,1367.77 267.97,1367.77 274.06,1367.77 278.93,1372.64 283.8,1364.12 289.89,1370.21 294.73,1372.47 300.04,1374.46 305.36,1376.45 310.67,1372.47 315.98,1386.4 321.29,1384.41 326.6,1386.4 331.92,1389.06 337.23,1388.39 342.54,1404.32 347.85,1393.04 353.16,1388.39 358.48,1383.75 363.79,1404.65 369.1,1404.65" fill="none" stroke="#6fa33d" stroke-width="2.2" stroke-linejoin="round" stroke-linecap="round"/>
<polyline points="76.74,1393.84 82.83,1398.71 87.7,1397.73 92.57,1397 98.66,1383.61 103.53,1379.95 112.06,1382.39 119.37,1371.43 125.46,1370.94 131.55,1367.77 140.07,1359.24 146.16,1359.24 151.04,1362.9 155.91,1362.17 162,1359.73 170.52,1359.24 180.27,1359.24 193.67,1359.24 198.54,1361.68 204.63,1362.9 209.5,1362.17 214.37,1366.55 220.46,1363.63 226.55,1364.12 236.3,1364.6 242.39,1365.33 248.48,1364.6 253.35,1363.63 263.09,1368.99 267.97,1368.5 274.06,1368.99 278.93,1371.43 283.8,1365.33 289.89,1370.21 294.73,1371.14 300.04,1373.13 305.36,1375.12 310.67,1370.48 315.98,1381.09 321.29,1381.76 326.6,1382.42 331.92,1381.76 337.23,1379.1 342.54,1393.04 347.85,1388.39 353.16,1380.43 358.48,1369.81 363.79,1389.72 369.1,1382.42" fill="none" stroke="#2f7394" stroke-width="2.2" stroke-linejoin="round" stroke-linecap="round"/>
<polyline points="76.74,1400.17 82.83,1406.75 87.7,1403.09 92.57,1401.14 98.66,1387.99 103.53,1389.7 112.06,1388.48 119.37,1386.04 125.46,1387.26 131.55,1384.82 136.42,1387.26 140.07,1379.95 146.16,1384.82 151.04,1383.61 155.91,1382.39 162,1376.3 168.09,1381.17 180.27,1381.17 193.67,1382.39 198.54,1384.82 204.63,1388.48 209.5,1388.96 219.24,1388.96 226.55,1389.7 236.3,1386.53 242.39,1387.26 248.48,1389.7 253.35,1388.48 263.09,1387.26 267.97,1386.53 274.06,1386.53 278.93,1389.7 283.8,1386.04 289.89,1388.48 294.73,1393.04 300.04,1387.73 305.36,1385.74 310.67,1379.1 315.98,1381.09 321.29,1382.42 326.6,1389.06 331.92,1385.74 337.23,1386.4 342.54,1395.69 347.85,1393.7 353.16,1395.69 358.48,1354.55 363.79,1356.54 369.1,1363.18" fill="none" stroke="#d09a6a" stroke-width="2.2" stroke-linejoin="round" stroke-linecap="round"/>
<polyline points="76.74,1396.27 82.83,1401.14 87.7,1390.91 93.79,1382.39 98.66,1386.04 103.53,1395.3 112.06,1400.66 119.37,1404.31 125.46,1404.31 130.33,1400.66 136.42,1403.09 141.29,1405.53 146.16,1407.97 151.04,1406.75 155.91,1403.09 162,1401.88 168.09,1405.53 180.27,1405.53 185.14,1405.53 190.01,1404.31 194.88,1404.31 199.76,1400.66 204.63,1403.09 209.5,1405.53 214.37,1405.53 219.24,1405.53 226.55,1406.75 231.43,1406.75 236.3,1404.31 242.39,1405.53 248.48,1404.8 253.35,1406.75 258.22,1407.48 267.97,1406.75 274.06,1406.75 278.93,1412.35 283.8,1411.13 289.89,1407.97 294.73,1411.62 300.04,1404.98 305.36,1397.02 310.67,1399.67 315.98,1401.67 321.29,1401.67 326.6,1404.98 331.92,1395.69 337.23,1399.01 342.54,1406.97 347.85,1416.26 353.16,1399.67 358.48,1344.27 363.79,1344.27 369.1,1344.27" fill="none" stroke="#70408c" stroke-width="2.2" stroke-linejoin="round" stroke-linecap="round"/>
<polyline points="76.74,1394.57 82.83,1397.73 87.7,1395.79 92.57,1397.73 98.66,1381.17 103.53,1379.95 112.06,1381.17 119.37,1376.3 125.46,1377.52 131.55,1374.59 140.07,1368.99 146.16,1370.21 151.04,1373.86 155.91,1371.91 162,1368.99 170.52,1369.48 180.27,1369.72 188.79,1367.77 193.67,1367.77 198.54,1368.5 204.63,1369.48 209.5,1370.21 214.37,1376.3 220.46,1375.08 226.55,1375.81 236.3,1373.86 242.39,1374.59 248.48,1372.64 253.35,1372.64 263.09,1377.52 267.97,1375.81 274.06,1377.52 278.93,1383.12 283.8,1376.3 289.89,1379.95 294.73,1385.08 300.04,1379.1 305.36,1380.43 310.67,1375.79 315.98,1384.41 321.29,1387.73 326.6,1393.04 331.92,1385.74 337.23,1385.08 342.54,1402.99 347.85,1404.32 353.16,1393.7 358.48,1338.63 363.79,1355.22 369.1,1349.24" fill="none" stroke="#7b787d" stroke-width="2.2" stroke-linejoin="round" stroke-linecap="round"/>
<polyline points="76.74,1392.86 82.83,1398.22 87.7,1397 92.57,1396.27 98.66,1381.17 103.53,1379.46 112.06,1381.17 119.37,1368.99 125.46,1363.63 131.55,1361.68 140.07,1354.86 146.16,1356.08 151.04,1359.24 155.91,1358.03 162,1356.32 170.52,1356.32 180.27,1356.32 193.67,1356.32 198.54,1359.24 204.63,1360.95 209.5,1360.46 214.37,1362.9 220.46,1359.24 226.55,1359.73 236.3,1359.24 242.39,1359.73 248.48,1360.46 253.35,1359.73 263.09,1362.9 267.97,1363.63 274.06,1363.63 278.93,1366.55 283.8,1362.41 289.89,1366.55 294.73,1367.82 300.04,1369.81 305.36,1371.8 310.67,1367.49 315.98,1378.44 321.29,1379.77 326.6,1380.76 331.92,1382.42 337.23,1381.09 342.54,1395.69 347.85,1383.09 353.16,1375.12 358.48,1364.51 363.79,1383.09 369.1,1376.45" fill="none" stroke="#e2a6cb" stroke-width="2.2" stroke-linejoin="round" stroke-linecap="round"/>
</g>
<line x1="65.3" y1="1406.7" x2="381.2" y2="1406.7" stroke="#000" stroke-width="1.3" stroke-dasharray="4.5,3.5"/>
<rect x="65.3" y="1153.9" width="315.9" height="287.4" fill="none" stroke="#111" stroke-width="1.35"/>
<line x1="60.3" y1="1406.7" x2="65.3" y2="1406.7" stroke="#222" stroke-width="1"/>
<text transform="translate(53.8,1406.7) rotate(-90)" x="-7.84" y="0" font-family="'Liberation Sans', Arial, Helvetica, sans-serif" font-size="11.3" fill="#000">0.5</text>
<line x1="60.3" y1="1358.24" x2="65.3" y2="1358.24" stroke="#222" stroke-width="1"/>
<text transform="translate(53.8,1358.24) rotate(-90)" x="-7.83" y="0" font-family="'Liberation Sans', Arial, Helvetica, sans-serif" font-size="11.3" fill="#000">0.6</text>
<line x1="60.3" y1="1309.78" x2="65.3" y2="1309.78" stroke="#222" stroke-width="1"/>
<text transform="translate(53.8,1309.78) rotate(-90)" x="-7.79" y="0" font-family="'Liberation Sans', Arial, Helvetica, sans-serif" font-size="11.3" fill="#000">0.7</text>
<line x1="60.3" y1="1261.32" x2="65.3" y2="1261.32" stroke="#222" stroke-width="1"/>
<text transform="translate(53.8,1261.32) rotate(-90)" x="-7.83" y="0" font-family="'Liberation Sans', Arial, Helvetica, sans-serif" font-size="11.3" fill="#000">0.8</text>
<line x1="60.3" y1="1212.86" x2="65.3" y2="1212.86" stroke="#222" stroke-width="1"/>
<text transform="translate(53.8,1212.86) rotate(-90)" x="-7.81" y="0" font-family="'Liberation Sans', Arial, Helvetica, sans-serif" font-size="11.3" fill="#000">0.9</text>
<line x1="60.3" y1="1164.4" x2="65.3" y2="1164.4" stroke="#222" stroke-width="1"/>
<text transform="translate(53.8,1164.4) rotate(-90)" x="-8.06" y="0" font-family="'Liberation Sans', Arial, Helvetica, sans-serif" font-size="11.3" fill="#000">1.0</text>
<line x1="103.5" y1="1441.3" x2="103.5" y2="1446.3" stroke="#222" stroke-width="1"/>
<text x="97.01" y="1458.1" font-family="'Liberation Sans', Arial, Helvetica, sans-serif" font-size="11.3" font-weight="normal" fill="#000">10</text>
<line x1="156.62" y1="1441.3" x2="156.62" y2="1446.3" stroke="#222" stroke-width="1"/>
<text x="150.27" y="1458.1" font-family="'Liberation Sans', Arial, Helvetica, sans-serif" font-size="11.3" font-weight="normal" fill="#000">20</text>
<line x1="209.74" y1="1441.3" x2="209.74" y2="1446.3" stroke="#222" stroke-width="1"/>
<text x="203.46" y="1458.1" font-family="'Liberation Sans', Arial, Helvetica, sans-serif" font-size="11.3" font-weight="normal" fill="#000">30</text>
<line x1="262.86" y1="1441.3" x2="262.86" y2="1446.3" stroke="#222" stroke-width="1"/>
<text x="256.67" y="1458.1" font-family="'Liberation Sans', Arial, Helvetica, sans-serif" font-size="11.3" font-weight="normal" fill="#000">40</text>
<line x1="315.98" y1="1441.3" x2="315.98" y2="1446.3" stroke="#222" stroke-width="1"/>
<text x="309.69" y="1458.1" font-family="'Liberation Sans', Arial, Helvetica, sans-serif" font-size="11.3" font-weight="normal" fill="#000">50</text>
<line x1="369.1" y1="1441.3" x2="369.1" y2="1446.3" stroke="#222" stroke-width="1"/>
<text x="362.75" y="1458.1" font-family="'Liberation Sans', Arial, Helvetica, sans-serif" font-size="11.3" font-weight="normal" fill="#000">60</text>
<text transform="translate(35.3,1298) rotate(-90)" x="-151.4" y="0" font-family="'Liberation Sans', Arial, Helvetica, sans-serif" font-size="18.68" fill="#000">Time-depedent area under the curve</text>
<text x="165.02" y="1479.1" font-family="'Liberation Sans', Arial, Helvetica, sans-serif" font-size="20.6" font-weight="normal" fill="#000">Time (months)</text>
<clipPath id="cld2"><rect x="442.2" y="1155.1" width="315.5" height="288.2"/></clipPath>
<g clip-path="url(#cld2)">
<polyline points="453.7,1236.22 467.34,1275.2 481.22,1273.98 495.11,1256.44 509.24,1245.97 522.64,1245.97 536.04,1245.24 550.65,1244.02 564.78,1244.02 578.67,1255.23 592.06,1253.76 606.68,1248.4 620.08,1252.06 633.96,1245.24 648.09,1242.31 661.49,1230.62 676.11,1210.16 689.51,1211.13 704.12,1204.56 717.52,1206.26 731.41,1211.86 745.54,1196.52" fill="none" stroke="#9e1c24" stroke-width="2.2" stroke-linejoin="round" stroke-linecap="round"/>
<polyline points="453.21,1246.46 467.34,1306.38 481.22,1306.14 495.11,1312.96 509.24,1321.97 522.64,1321.97 536.04,1321.49 550.65,1314.91 564.78,1314.91 578.67,1321.49 592.06,1325.87 606.19,1360.46 620.08,1364.12 633.96,1343.41 648.09,1343.41 661.49,1331.23 676.11,1314.91 689.51,1319.05 704.12,1333.18 717.52,1360.46 731.41,1377.52 745.54,1311.74" fill="none" stroke="#6fa33d" stroke-width="2.2" stroke-linejoin="round" stroke-linecap="round"/>
<polyline points="453.21,1297.86 467.34,1326.36 481.22,1325.63 495.11,1327.58 509.24,1332.45 522.64,1332.45 536.04,1331.72 550.65,1325.14 564.78,1325.14 578.67,1325.87 592.06,1330.01 606.19,1363.63 620.08,1367.77 633.96,1343.41 648.09,1340.24 661.49,1333.67 676.11,1324.41 689.51,1328.79 704.12,1343.41 717.52,1372.64 731.41,1392.13 745.54,1320.27" fill="none" stroke="#2f7394" stroke-width="2.2" stroke-linejoin="round" stroke-linecap="round"/>
<polyline points="453.21,1277.15 467.34,1362.17 481.22,1362.9 495.11,1375.57 509.24,1387.99 522.64,1387.99 536.04,1388.96 550.65,1383.61 564.78,1383.61 578.67,1400.17 592.06,1401.39 606.19,1408.45 620.08,1410.89 633.96,1382.39 648.09,1393.35 661.49,1392.13 676.11,1396.27 689.51,1389.7 704.12,1392.13 717.52,1398.71 731.41,1422.58 745.54,1425.75" fill="none" stroke="#d09a6a" stroke-width="2.2" stroke-linejoin="round" stroke-linecap="round"/>
<polyline points="453.21,1428.67 467.34,1429.89 481.22,1425.02 495.11,1426.24 509.24,1427.94 522.64,1427.94 536.04,1428.19 550.65,1428.67 564.78,1428.67 578.67,1429.89 592.06,1430.62 606.19,1432.33 620.08,1433.54 633.96,1405.53 648.09,1410.4 661.49,1414.79 676.11,1422.1 689.51,1412.84 704.12,1406.75 717.52,1409.91 731.41,1422.58 735.79,1443.29" fill="none" stroke="#70408c" stroke-width="2.2" stroke-linejoin="round" stroke-linecap="round"/>
<polyline points="453.21,1311.01 467.34,1340.24 481.22,1339.76 495.11,1342.19 509.24,1348.28 522.64,1348.28 536.04,1347.8 550.65,1341.46 564.78,1341.46 578.67,1343.41 592.06,1347.8 606.19,1381.17 620.08,1385.55 633.96,1363.63 648.09,1362.9 661.49,1358.76 676.11,1353.89 689.51,1349.99 704.12,1360.46 717.52,1393.35 731.41,1423.07 745.54,1394.57" fill="none" stroke="#7b787d" stroke-width="2.2" stroke-linejoin="round" stroke-linecap="round"/>
<polyline points="453.21,1237.44 467.34,1297.13 481.22,1296.39 495.11,1303.22 509.24,1311.74 522.64,1311.74 536.04,1310.52 550.65,1304.43 564.78,1304.43 578.67,1309.79 592.06,1313.69 606.19,1349.01 620.08,1351.94 633.96,1330.01 648.09,1328.79 661.49,1322.7 676.11,1314.91 689.51,1319.05 704.12,1333.18 717.52,1360.46 731.41,1378.73 745.54,1310.04" fill="none" stroke="#e2a6cb" stroke-width="2.2" stroke-linejoin="round" stroke-linecap="round"/>
</g>
<line x1="442.2" y1="1408" x2="757.7" y2="1408" stroke="#000" stroke-width="1.3" stroke-dasharray="4.5,3.5"/>
<rect x="442.2" y="1155.1" width="315.5" height="288.2" fill="none" stroke="#111" stroke-width="1.35"/>
<line x1="437.2" y1="1408" x2="442.2" y2="1408" stroke="#222" stroke-width="1"/>
<text transform="translate(430.7,1408) rotate(-90)" x="-7.84" y="0" font-family="'Liberation Sans', Arial, Helvetica, sans-serif" font-size="11.3" fill="#000">0.5</text>
<line x1="437.2" y1="1359.52" x2="442.2" y2="1359.52" stroke="#222" stroke-width="1"/>
<text transform="translate(430.7,1359.52) rotate(-90)" x="-7.83" y="0" font-family="'Liberation Sans', Arial, Helvetica, sans-serif" font-size="11.3" fill="#000">0.6</text>
<line x1="437.2" y1="1311.04" x2="442.2" y2="1311.04" stroke="#222" stroke-width="1"/>
<text transform="translate(430.7,1311.04) rotate(-90)" x="-7.79" y="0" font-family="'Liberation Sans', Arial, Helvetica, sans-serif" font-size="11.3" fill="#000">0.7</text>
<line x1="437.2" y1="1262.56" x2="442.2" y2="1262.56" stroke="#222" stroke-width="1"/>
<text transform="translate(430.7,1262.56) rotate(-90)" x="-7.83" y="0" font-family="'Liberation Sans', Arial, Helvetica, sans-serif" font-size="11.3" fill="#000">0.8</text>
<line x1="437.2" y1="1214.08" x2="442.2" y2="1214.08" stroke="#222" stroke-width="1"/>
<text transform="translate(430.7,1214.08) rotate(-90)" x="-7.81" y="0" font-family="'Liberation Sans', Arial, Helvetica, sans-serif" font-size="11.3" fill="#000">0.9</text>
<line x1="437.2" y1="1165.6" x2="442.2" y2="1165.6" stroke="#222" stroke-width="1"/>
<text transform="translate(430.7,1165.6) rotate(-90)" x="-8.06" y="0" font-family="'Liberation Sans', Arial, Helvetica, sans-serif" font-size="11.3" fill="#000">1.0</text>
<line x1="453.7" y1="1443.3" x2="453.7" y2="1448.3" stroke="#222" stroke-width="1"/>
<text x="450.57" y="1460.1" font-family="'Liberation Sans', Arial, Helvetica, sans-serif" font-size="11.3" font-weight="normal" fill="#000">5</text>
<line x1="523.3" y1="1443.3" x2="523.3" y2="1448.3" stroke="#222" stroke-width="1"/>
<text x="516.81" y="1460.1" font-family="'Liberation Sans', Arial, Helvetica, sans-serif" font-size="11.3" font-weight="normal" fill="#000">10</text>
<line x1="592.9" y1="1443.3" x2="592.9" y2="1448.3" stroke="#222" stroke-width="1"/>
<text x="586.42" y="1460.1" font-family="'Liberation Sans', Arial, Helvetica, sans-serif" font-size="11.3" font-weight="normal" fill="#000">15</text>
<line x1="662.5" y1="1443.3" x2="662.5" y2="1448.3" stroke="#222" stroke-width="1"/>
<text x="656.15" y="1460.1" font-family="'Liberation Sans', Arial, Helvetica, sans-serif" font-size="11.3" font-weight="normal" fill="#000">20</text>
<line x1="732.1" y1="1443.3" x2="732.1" y2="1448.3" stroke="#222" stroke-width="1"/>
<text x="725.77" y="1460.1" font-family="'Liberation Sans', Arial, Helvetica, sans-serif" font-size="11.3" font-weight="normal" fill="#000">25</text>
<text transform="translate(409.4,1297.7) rotate(-90)" x="-151.4" y="0" font-family="'Liberation Sans', Arial, Helvetica, sans-serif" font-size="18.68" fill="#000">Time-depedent area under the curve</text>
<text x="544.32" y="1478.6" font-family="'Liberation Sans', Arial, Helvetica, sans-serif" font-size="20.6" font-weight="normal" fill="#000">Time (months)</text>
<clipPath id="cld3"><rect x="815.5" y="1156.6" width="316" height="287.4"/></clipPath>
<g clip-path="url(#cld3)">
<polyline points="826.99,1397 832.35,1401.39 837.47,1360.46 842.83,1319.05 847.7,1319.78 853.06,1308.09 858.66,1299.56 863.53,1286.89 868.89,1286.89 874.49,1266.67 879.37,1264.24 885.46,1259.37 891.55,1256.93 896.42,1256.44 901.29,1256.93 906.16,1259.37 911.04,1258.39 917.13,1257.9 922,1259.85 928.09,1257.42 932.96,1255.23 939.05,1254.98 943.92,1256.44 948.79,1255.71 953.67,1248.89 958.54,1247.19 964.63,1235.01 969.5,1233.79 975.59,1233.79 980.46,1243.53 986.55,1247.67 991.43,1248.89 996.3,1248.16 1001.17,1236.22 1007.26,1235.98 1012.13,1229.65 1017,1229.16 1023.09,1219.17 1027.97,1219.17 1037.71,1218.68 1043.8,1216.98 1049.89,1218.44 1054.76,1218.44 1062.07,1218.44 1066.94,1217.47 1074.25,1217.95 1081.56,1220.39 1086.43,1221.61 1096.18,1221.61 1108.36,1222.34 1113.23,1224.04 1119.32,1224.53" fill="none" stroke="#9e1c24" stroke-width="2.2" stroke-linejoin="round" stroke-linecap="round"/>
<polyline points="826.99,1358.03 832.35,1354.37 837.47,1349.5 842.83,1375.08 847.7,1383.61 853.06,1367.77 858.66,1364.12 863.53,1361.19 868.89,1370.21 874.49,1364.6 879.37,1365.33 885.46,1364.6 891.55,1364.12 896.42,1365.33 901.29,1365.33 906.16,1361.68 911.04,1359.73 917.13,1359.73 922,1367.77 928.09,1371.43 932.96,1372.16 939.05,1374.35 943.92,1376.3 948.79,1380.68 953.67,1381.66 958.54,1378.25 964.63,1366.07 969.5,1367.77 975.59,1363.63 980.46,1361.68 986.55,1366.07 991.43,1370.21 996.3,1367.77 1001.17,1365.82 1007.26,1366.07 1012.13,1364.6 1017,1366.07 1023.09,1375.08 1027.97,1375.08 1037.71,1375.08 1042.58,1376.3 1049.89,1363.39 1054.76,1363.39 1062.07,1363.39 1066.94,1358.03 1071.81,1356.81 1076.69,1354.86 1081.56,1361.68 1086.43,1362.9 1096.18,1362.9 1103.48,1379.95 1110.79,1381.17 1119.32,1387.26" fill="none" stroke="#6fa33d" stroke-width="2.2" stroke-linejoin="round" stroke-linecap="round"/>
<polyline points="826.99,1359.24 832.35,1355.59 837.47,1349.5 842.83,1373.86 847.7,1384.82 853.06,1377.52 858.66,1375.08 863.53,1371.43 868.89,1382.39 874.49,1380.68 879.37,1381.17 885.46,1379.95 891.55,1377.52 896.42,1378.73 901.29,1378.73 906.16,1375.08 911.04,1373.86 917.13,1375.08 922,1382.39 928.09,1383.61 932.96,1385.55 939.05,1388.48 943.92,1390.91 948.79,1394.57 953.67,1394.57 958.54,1389.7 964.63,1382.39 969.5,1384.82 975.59,1378.73 980.46,1373.86 986.55,1377.52 991.43,1381.66 996.3,1378.73 1001.17,1373.86 1007.26,1373.37 1012.13,1370.21 1017,1371.43 1023.09,1381.17 1027.97,1381.17 1037.71,1381.17 1040.15,1385.55 1043.8,1381.17 1049.89,1366.55 1054.76,1366.55 1062.07,1366.07 1066.94,1360.46 1071.81,1361.19 1076.69,1355.59 1081.56,1361.68 1086.43,1365.33 1096.18,1365.33 1103.48,1382.39 1110.79,1383.61 1119.32,1387.99" fill="none" stroke="#2f7394" stroke-width="2.2" stroke-linejoin="round" stroke-linecap="round"/>
<polyline points="826.99,1386.77 832.35,1376.3 837.47,1372.64 842.83,1381.17 847.7,1387.26 853.06,1382.39 858.66,1377.52 863.53,1367.28 868.89,1360.46 874.49,1359.24 879.37,1356.81 885.46,1356.32 891.55,1354.86 896.42,1355.59 901.29,1351.94 906.16,1349.5 911.04,1348.28 917.13,1347.06 922,1351.94 928.09,1356.81 932.96,1357.3 939.05,1358.03 943.92,1358.03 948.79,1361.19 953.67,1362.17 958.54,1365.33 964.63,1353.15 969.5,1353.64 975.59,1355.59 980.46,1358.76 986.55,1361.68 991.43,1362.9 996.3,1363.63 1001.17,1365.33 1007.26,1366.55 1012.13,1367.77 1017,1370.21 1023.09,1371.43 1027.97,1371.91 1037.71,1371.91 1042.58,1372.64 1045.02,1365.33 1049.89,1367.77 1054.76,1367.77 1062.07,1368.5 1066.94,1373.86 1071.81,1373.86 1076.69,1375.81 1086.43,1377.52 1096.18,1378.25 1103.48,1382.39 1110.79,1382.39 1119.32,1383.61" fill="none" stroke="#d09a6a" stroke-width="2.2" stroke-linejoin="round" stroke-linecap="round"/>
<polyline points="826.99,1425.02 832.35,1405.53 837.47,1403.09 842.83,1395.79 847.7,1401.39 853.06,1397.73 858.66,1397.49 863.53,1381.9 868.89,1387.26 874.49,1388.48 879.37,1389.7 885.46,1384.82 891.55,1386.04 896.42,1385.55 901.29,1382.39 906.16,1381.17 911.04,1381.17 917.13,1382.39 922,1383.61 928.09,1378.73 932.96,1380.68 939.05,1382.39 943.92,1383.12 948.79,1385.55 953.67,1387.26 958.54,1388.96 964.63,1390.43 969.5,1390.43 975.59,1387.26 980.46,1388.48 986.55,1382.39 991.43,1382.87 996.3,1383.12 1001.17,1384.34 1007.26,1384.82 1012.13,1386.04 1017,1381.66 1023.09,1382.39 1027.97,1382.39 1037.71,1382.39 1042.58,1383.61 1049.89,1384.82 1054.76,1384.82 1062.07,1385.55 1066.94,1387.26 1071.81,1387.26 1076.69,1387.99 1081.56,1388.48 1086.43,1388.96 1096.18,1388.96 1103.48,1390.91 1110.79,1390.91 1119.32,1390.91" fill="none" stroke="#70408c" stroke-width="2.2" stroke-linejoin="round" stroke-linecap="round"/>
<polyline points="826.99,1357.54 832.35,1354.37 837.47,1348.28 842.83,1372.64 847.7,1381.17 853.06,1376.3 858.66,1376.3 863.53,1367.77 868.89,1379.95 874.49,1379.95 879.37,1379.95 885.46,1378.73 891.55,1376.3 896.42,1377.52 901.29,1376.3 906.16,1370.21 911.04,1368.99 917.13,1370.21 922,1377.52 928.09,1379.22 932.96,1380.68 939.05,1383.61 943.92,1386.53 948.79,1388.48 953.67,1388.96 958.54,1385.55 964.63,1377.52 969.5,1378.73 975.59,1372.64 980.46,1367.77 986.55,1372.64 991.43,1375.81 996.3,1372.64 1001.17,1368.99 1007.26,1368.99 1012.13,1367.04 1017,1367.77 1023.09,1375.57 1027.97,1375.81 1037.71,1375.81 1042.58,1379.95 1049.89,1365.33 1054.76,1365.33 1062.07,1365.33 1066.94,1356.81 1071.81,1356.81 1076.69,1351.94 1081.56,1356.81 1086.43,1361.19 1096.18,1361.19 1103.48,1376.3 1110.79,1376.3 1119.32,1382.39" fill="none" stroke="#7b787d" stroke-width="2.2" stroke-linejoin="round" stroke-linecap="round"/>
<polyline points="826.99,1349.99 832.35,1343.41 837.47,1334.88 842.83,1359.24 847.7,1377.52 853.06,1375.08 858.66,1373.13 863.53,1362.9 868.89,1372.64 874.49,1367.77 879.37,1367.77 885.46,1366.55 891.55,1365.33 896.42,1365.82 901.29,1366.55 906.16,1364.12 911.04,1363.63 917.13,1364.85 922,1373.37 928.09,1375.08 932.96,1375.57 939.05,1376.78 943.92,1379.95 948.79,1383.12 953.67,1386.04 958.54,1383.61 964.63,1373.86 969.5,1375.08 975.59,1370.69 980.46,1367.04 986.55,1370.21 991.43,1373.13 996.3,1370.21 1001.17,1368.26 1007.26,1368.26 1012.13,1367.77 1017,1368.99 1023.09,1376.78 1027.97,1376.3 1037.71,1377.52 1043.8,1376.3 1049.89,1368.99 1054.76,1368.5 1062.07,1368.26 1066.94,1362.41 1071.81,1362.9 1076.69,1358.51 1081.56,1365.33 1086.43,1368.99 1096.18,1369.48 1103.48,1383.61 1110.79,1384.34 1119.32,1391.64" fill="none" stroke="#e2a6cb" stroke-width="2.2" stroke-linejoin="round" stroke-linecap="round"/>
</g>
<line x1="815.5" y1="1409.7" x2="1131.5" y2="1409.7" stroke="#000" stroke-width="1.3" stroke-dasharray="4.5,3.5"/>
<rect x="815.5" y="1156.6" width="316" height="287.4" fill="none" stroke="#111" stroke-width="1.35"/>
<line x1="810.5" y1="1409.7" x2="815.5" y2="1409.7" stroke="#222" stroke-width="1"/>
<text transform="translate(804,1409.7) rotate(-90)" x="-7.84" y="0" font-family="'Liberation Sans', Arial, Helvetica, sans-serif" font-size="11.3" fill="#000">0.5</text>
<line x1="810.5" y1="1361.22" x2="815.5" y2="1361.22" stroke="#222" stroke-width="1"/>
<text transform="translate(804,1361.22) rotate(-90)" x="-7.83" y="0" font-family="'Liberation Sans', Arial, Helvetica, sans-serif" font-size="11.3" fill="#000">0.6</text>
<line x1="810.5" y1="1312.74" x2="815.5" y2="1312.74" stroke="#222" stroke-width="1"/>
<text transform="translate(804,1312.74) rotate(-90)" x="-7.79" y="0" font-family="'Liberation Sans', Arial, Helvetica, sans-serif" font-size="11.3" fill="#000">0.7</text>
<line x1="810.5" y1="1264.26" x2="815.5" y2="1264.26" stroke="#222" stroke-width="1"/>
<text transform="translate(804,1264.26) rotate(-90)" x="-7.83" y="0" font-family="'Liberation Sans', Arial, Helvetica, sans-serif" font-size="11.3" fill="#000">0.8</text>
<line x1="810.5" y1="1215.78" x2="815.5" y2="1215.78" stroke="#222" stroke-width="1"/>
<text transform="translate(804,1215.78) rotate(-90)" x="-7.81" y="0" font-family="'Liberation Sans', Arial, Helvetica, sans-serif" font-size="11.3" fill="#000">0.9</text>
<line x1="810.5" y1="1167.3" x2="815.5" y2="1167.3" stroke="#222" stroke-width="1"/>
<text transform="translate(804,1167.3) rotate(-90)" x="-8.06" y="0" font-family="'Liberation Sans', Arial, Helvetica, sans-serif" font-size="11.3" fill="#000">1.0</text>
<line x1="853.3" y1="1444" x2="853.3" y2="1449" stroke="#222" stroke-width="1"/>
<text x="846.81" y="1460.8" font-family="'Liberation Sans', Arial, Helvetica, sans-serif" font-size="11.3" font-weight="normal" fill="#000">10</text>
<line x1="906.5" y1="1444" x2="906.5" y2="1449" stroke="#222" stroke-width="1"/>
<text x="900.15" y="1460.8" font-family="'Liberation Sans', Arial, Helvetica, sans-serif" font-size="11.3" font-weight="normal" fill="#000">20</text>
<line x1="959.7" y1="1444" x2="959.7" y2="1449" stroke="#222" stroke-width="1"/>
<text x="953.42" y="1460.8" font-family="'Liberation Sans', Arial, Helvetica, sans-serif" font-size="11.3" font-weight="normal" fill="#000">30</text>
<line x1="1012.9" y1="1444" x2="1012.9" y2="1449" stroke="#222" stroke-width="1"/>
<text x="1006.71" y="1460.8" font-family="'Liberation Sans', Arial, Helvetica, sans-serif" font-size="11.3" font-weight="normal" fill="#000">40</text>
<line x1="1066.1" y1="1444" x2="1066.1" y2="1449" stroke="#222" stroke-width="1"/>
<text x="1059.81" y="1460.8" font-family="'Liberation Sans', Arial, Helvetica, sans-serif" font-size="11.3" font-weight="normal" fill="#000">50</text>
<line x1="1119.3" y1="1444" x2="1119.3" y2="1449" stroke="#222" stroke-width="1"/>
<text x="1112.95" y="1460.8" font-family="'Liberation Sans', Arial, Helvetica, sans-serif" font-size="11.3" font-weight="normal" fill="#000">60</text>
<text transform="translate(786.3,1300) rotate(-90)" x="-151.4" y="0" font-family="'Liberation Sans', Arial, Helvetica, sans-serif" font-size="18.68" fill="#000">Time-depedent area under the curve</text>
<text x="911.62" y="1479.8" font-family="'Liberation Sans', Arial, Helvetica, sans-serif" font-size="20.6" font-weight="normal" fill="#000">Time (months)</text>
<rect x="1433.5" y="100.5" width="427" height="226.7" fill="#e4e4e4"/>
<line x1="1485.61" y1="100.5" x2="1485.61" y2="327.2" stroke="#fff" stroke-width="0.6"/>
<line x1="1550.22" y1="100.5" x2="1550.22" y2="327.2" stroke="#fff" stroke-width="0.6"/>
<line x1="1614.84" y1="100.5" x2="1614.84" y2="327.2" stroke="#fff" stroke-width="0.6"/>
<line x1="1679.46" y1="100.5" x2="1679.46" y2="327.2" stroke="#fff" stroke-width="0.6"/>
<line x1="1744.08" y1="100.5" x2="1744.08" y2="327.2" stroke="#fff" stroke-width="0.6"/>
<line x1="1453.3" y1="100.5" x2="1453.3" y2="327.2" stroke="#fafafa" stroke-width="1.3"/>
<line x1="1517.92" y1="100.5" x2="1517.92" y2="327.2" stroke="#fafafa" stroke-width="1.3"/>
<line x1="1582.53" y1="100.5" x2="1582.53" y2="327.2" stroke="#fafafa" stroke-width="1.3"/>
<line x1="1647.15" y1="100.5" x2="1647.15" y2="327.2" stroke="#fafafa" stroke-width="1.3"/>
<line x1="1711.77" y1="100.5" x2="1711.77" y2="327.2" stroke="#fafafa" stroke-width="1.3"/>
<line x1="1776.38" y1="100.5" x2="1776.38" y2="327.2" stroke="#fafafa" stroke-width="1.3"/>
<line x1="1841" y1="100.5" x2="1841" y2="327.2" stroke="#fafafa" stroke-width="1.3"/>
<line x1="1433.5" y1="122.4" x2="1860.5" y2="122.4" stroke="#fafafa" stroke-width="1.3"/>
<line x1="1433.5" y1="159.1" x2="1860.5" y2="159.1" stroke="#fafafa" stroke-width="1.3"/>
<line x1="1433.5" y1="195.7" x2="1860.5" y2="195.7" stroke="#fafafa" stroke-width="1.3"/>
<line x1="1433.5" y1="232.2" x2="1860.5" y2="232.2" stroke="#fafafa" stroke-width="1.3"/>
<line x1="1433.5" y1="268.6" x2="1860.5" y2="268.6" stroke="#fafafa" stroke-width="1.3"/>
<line x1="1433.5" y1="305.3" x2="1860.5" y2="305.3" stroke="#fafafa" stroke-width="1.3"/>
<line x1="1662" y1="100.5" x2="1662" y2="327.2" stroke="#7a7a7a" stroke-width="1.3" stroke-dasharray="4,3.5"/>
<circle cx="1562.9" cy="122.4" r="7.3" fill="#e0643a"/>
<circle cx="1561.5" cy="159.1" r="7.3" fill="#e0643a"/>
<circle cx="1523" cy="195.7" r="7.3" fill="#e0643a"/>
<circle cx="1558.7" cy="232.2" r="7.3" fill="#e0643a"/>
<circle cx="1561.5" cy="268.6" r="7.3" fill="#e0643a"/>
<circle cx="1568.5" cy="305.3" r="7.3" fill="#e0643a"/>
<polygon points="1659.1,111.5 1668.54,127.85 1649.66,127.85" fill="#3b87c1"/>
<polygon points="1658.4,148.2 1667.84,164.55 1648.96,164.55" fill="#3b87c1"/>
<polygon points="1662,184.8 1671.44,201.15 1652.56,201.15" fill="#3b87c1"/>
<polygon points="1659,221.3 1668.44,237.65 1649.56,237.65" fill="#3b87c1"/>
<polygon points="1659,257.7 1668.44,274.05 1649.56,274.05" fill="#3b87c1"/>
<polygon points="1659.8,294.4 1669.24,310.75 1650.36,310.75" fill="#3b87c1"/>
<line x1="1433.5" y1="100.5" x2="1433.5" y2="327.9" stroke="#222" stroke-width="1.4"/>
<line x1="1432.8" y1="327.2" x2="1860.5" y2="327.2" stroke="#000" stroke-width="1.5"/>
<line x1="1431" y1="122.4" x2="1433.5" y2="122.4" stroke="#333" stroke-width="1.1"/>
<line x1="1431" y1="159.1" x2="1433.5" y2="159.1" stroke="#333" stroke-width="1.1"/>
<line x1="1431" y1="195.7" x2="1433.5" y2="195.7" stroke="#333" stroke-width="1.1"/>
<line x1="1431" y1="232.2" x2="1433.5" y2="232.2" stroke="#333" stroke-width="1.1"/>
<line x1="1431" y1="268.6" x2="1433.5" y2="268.6" stroke="#333" stroke-width="1.1"/>
<line x1="1431" y1="305.3" x2="1433.5" y2="305.3" stroke="#333" stroke-width="1.1"/>
<line x1="1453.3" y1="327.2" x2="1453.3" y2="329.7" stroke="#333" stroke-width="1"/>
<text x="1445.03" y="339.2" font-family="'Liberation Serif', 'Times New Roman', serif" font-size="13" font-weight="normal" fill="#000">0.4</text>
<line x1="1517.92" y1="327.2" x2="1517.92" y2="329.7" stroke="#333" stroke-width="1"/>
<text x="1509.8" y="339.2" font-family="'Liberation Serif', 'Times New Roman', serif" font-size="13" font-weight="normal" fill="#000">0.5</text>
<line x1="1582.53" y1="327.2" x2="1582.53" y2="329.7" stroke="#333" stroke-width="1"/>
<text x="1574.35" y="339.2" font-family="'Liberation Serif', 'Times New Roman', serif" font-size="13" font-weight="normal" fill="#000">0.6</text>
<line x1="1647.15" y1="327.2" x2="1647.15" y2="329.7" stroke="#333" stroke-width="1"/>
<text x="1638.96" y="339.2" font-family="'Liberation Serif', 'Times New Roman', serif" font-size="13" font-weight="normal" fill="#000">0.7</text>
<line x1="1711.77" y1="327.2" x2="1711.77" y2="329.7" stroke="#333" stroke-width="1"/>
<text x="1703.64" y="339.2" font-family="'Liberation Serif', 'Times New Roman', serif" font-size="13" font-weight="normal" fill="#000">0.8</text>
<line x1="1776.38" y1="327.2" x2="1776.38" y2="329.7" stroke="#333" stroke-width="1"/>
<text x="1768.28" y="339.2" font-family="'Liberation Serif', 'Times New Roman', serif" font-size="13" font-weight="normal" fill="#000">0.9</text>
<line x1="1841" y1="327.2" x2="1841" y2="329.7" stroke="#333" stroke-width="1"/>
<text x="1832.55" y="339.2" font-family="'Liberation Serif', 'Times New Roman', serif" font-size="13" font-weight="normal" fill="#000">1.0</text>
<text x="1243.08" y="126.9" font-family="'Liberation Sans', Arial, Helvetica, sans-serif" font-size="19.4" font-weight="normal" fill="#000">UICC staging system</text>
<text x="1202.61" y="163.6" font-family="'Liberation Sans', Arial, Helvetica, sans-serif" font-size="19.4" font-weight="normal" fill="#000">ITA.LI.CA staging system</text>
<text x="1236.85" y="200.2" font-family="'Liberation Sans', Arial, Helvetica, sans-serif" font-size="19.4" font-weight="normal" fill="#000">HKLC staging system</text>
<text x="1238.28" y="236.7" font-family="'Liberation Sans', Arial, Helvetica, sans-serif" font-size="19.4" font-weight="normal" fill="#000">CNLC staging system</text>
<text x="1239.35" y="273.1" font-family="'Liberation Sans', Arial, Helvetica, sans-serif" font-size="19.4" font-weight="normal" fill="#000">BCLC staging system</text>
<text x="1243.24" y="309.8" font-family="'Liberation Sans', Arial, Helvetica, sans-serif" font-size="19.4" font-weight="normal" fill="#000">AJCC staging system</text>
<text x="1620.28" y="361.5" font-family="'Liberation Sans', Arial, Helvetica, sans-serif" font-size="17.8" font-weight="normal" fill="#000">C-index</text>
<text x="1180.25" y="21.4" font-family="'Liberation Sans', Arial, Helvetica, sans-serif" font-size="29.5" font-weight="bold" fill="#231f20">e</text>
<text x="1219.88" y="23.6" font-family="'Liberation Sans', Arial, Helvetica, sans-serif" font-size="27.25" font-weight="bold" fill="#000">Major staging systems vs. HEROVision (2ndTA dataset)</text>
<rect x="1289.6" y="37.5" width="21" height="19" fill="#ebebeb"/>
<circle cx="1300.1" cy="46.9" r="7.4" fill="#e0643a"/>
<text x="1313.6" y="54.3" font-family="'Liberation Sans', Arial, Helvetica, sans-serif" font-size="20.7" font-weight="normal" fill="#000">Before using HEROVision</text>
<rect x="1291.2" y="65.9" width="21" height="19.8" fill="#ebebeb"/>
<polygon points="1301.7,66.3 1311.4,83.1 1292,83.1" fill="#3b87c1"/>
<text x="1316.66" y="82.2" font-family="'Liberation Sans', Arial, Helvetica, sans-serif" font-size="20.7" font-weight="normal" fill="#000">After using HEROVision</text>
<g transform="translate(0,0) scale(1.0)">
<g fill="none" stroke="#000" stroke-width="1.6" stroke-linejoin="round" stroke-linecap="round">
<path d="M1652.6,43.9 L1650.0,44.4 L1650.6,51.6 L1652.8,51.8" stroke-width="1.4"/>
<path d="M1673.9,43.3 L1676.4,43.3 L1676.0,51.7 L1673.9,51.8" stroke-width="1.4"/>
<path d="M1653.0,54.5 L1653.0,42.0 Q1653.0,37.6 1657.6,37.6 L1668.8,37.6 Q1673.4,37.6 1673.4,42.0 L1673.4,54.5" fill="#fff"/>
<path d="M1656.9,45.8 L1663.4,40.8 L1669.7,45.8 L1663.4,50.9 Z M1656.9,45.8 L1669.7,45.8 M1663.4,40.8 L1663.4,50.9" stroke-width="0.8"/>
<circle cx="1656.9" cy="45.8" r="1.15" fill="#fff" stroke-width="0.75"/>
<circle cx="1663.4" cy="40.8" r="1.15" fill="#fff" stroke-width="0.75"/>
<circle cx="1669.7" cy="45.8" r="1.15" fill="#fff" stroke-width="0.75"/>
<circle cx="1663.4" cy="50.9" r="1.15" fill="#fff" stroke-width="0.75"/>
<circle cx="1663.4" cy="45.8" r="1.15" fill="#fff" stroke-width="0.75"/>
<path d="M1643.2,58.6 C1647,55.5 1655,53.0 1662.3,52.9 C1668,52.9 1676,53.6 1681.4,56.7 L1680.8,59.6 L1682.0,65.9 L1682.4,69.5 L1681.1,72.3 C1680,75 1679,75.5 1678.2,75.5 L1671.8,75.5 L1669.3,73.6 L1663.9,74.2 C1660,75.8 1657,77.2 1655.9,77.4 L1649.6,78.7 C1647,78.8 1645.5,78.5 1645.1,78.0 C1643.6,76.8 1643.4,76 1643.5,75.5 L1643.5,69.1 L1644.1,61.1 Z" fill="#fff" stroke="none"/>
<path d="M1643.2,58.6 C1647,55.5 1655,53.0 1662.3,52.9 C1668,52.9 1676,53.6 1681.4,56.7"/>
<path d="M1643.2,58.6 L1644.1,61.1 L1643.5,69.1 L1643.5,75.5 C1643.6,77.3 1645.5,78.6 1649.6,78.7"/>
<path d="M1648.9,57.3 C1652,55.8 1656,54.9 1659.7,54.8 C1664,54.6 1668,54.3 1671.8,54.5 C1674,54.8 1675.5,55.4 1676.3,56.2"/>
<path d="M1648.9,57.3 C1649.2,59.5 1649.6,61 1650.2,62.1 C1651.2,63.8 1652.2,64.6 1653.4,65.0 L1656.6,65.9"/>
<path d="M1645.4,74.5 L1655.3,67.2 C1659,65.4 1662,64.2 1665.5,63.4 C1668,62.7 1670,62.2 1671.8,62.1 C1673.2,62.1 1674.3,62.3 1675.0,62.7 C1675.7,63.2 1675.6,64 1675.4,64.6 L1673.6,66.6"/>
<path d="M1645.6,75.6 C1646.5,77.4 1648,78.3 1649.6,78.3 C1651.6,78.3 1653.8,77.9 1655.9,77.4 L1663.9,74.2 C1666,73.3 1668,72.7 1670.3,72.3 L1676.6,70.1 C1678.5,69.7 1679.8,69.6 1680.8,69.7"/>
<path d="M1669.3,73.6 C1670.2,74.8 1670.8,75.3 1671.8,75.5 L1678.2,75.5 C1680,75 1681,73.6 1681.1,72.3 C1681.2,71.2 1681.1,70.3 1680.8,69.7"/>
<path d="M1644.8,59.2 L1648.3,63.4 M1646.4,64.3 L1645.6,72.4 M1646.4,64.3 L1650.5,65.6 M1676.6,56.4 L1676.6,67.8 M1677.3,59.9 L1681.1,56.7 M1681.4,56.7 L1680.8,59.6 L1682.0,65.9 L1682.4,69.0 M1673.4,64.6 L1673.8,67.5" stroke-width="1.2"/>
</g>
<polygon points="1640.0,81.0 1689.8,68.8 1689.8,84.8 1646.5,96.2 1646.2,97.2 1640.0,97.2" fill="#000"/>
<polygon points="1642.4,82.9 1687.5,72.0 1687.5,81.9 1642.4,93.7" fill="#fff"/>
<text transform="translate(1665.0,82.9) rotate(-13.3) scale(0.7,1)" x="0" y="3.9" text-anchor="middle" font-family="'Liberation Sans', Arial, sans-serif" font-weight="bold" font-size="11" fill="#000" stroke="#000" stroke-width="0.6">HEROVision</text>
</g>
<rect x="1434" y="484.6" width="427.7" height="226.1" fill="#e4e4e4"/>
<line x1="1486.52" y1="484.6" x2="1486.52" y2="710.7" stroke="#fff" stroke-width="0.6"/>
<line x1="1551.15" y1="484.6" x2="1551.15" y2="710.7" stroke="#fff" stroke-width="0.6"/>
<line x1="1615.78" y1="484.6" x2="1615.78" y2="710.7" stroke="#fff" stroke-width="0.6"/>
<line x1="1680.42" y1="484.6" x2="1680.42" y2="710.7" stroke="#fff" stroke-width="0.6"/>
<line x1="1745.05" y1="484.6" x2="1745.05" y2="710.7" stroke="#fff" stroke-width="0.6"/>
<line x1="1454.2" y1="484.6" x2="1454.2" y2="710.7" stroke="#fafafa" stroke-width="1.3"/>
<line x1="1518.83" y1="484.6" x2="1518.83" y2="710.7" stroke="#fafafa" stroke-width="1.3"/>
<line x1="1583.47" y1="484.6" x2="1583.47" y2="710.7" stroke="#fafafa" stroke-width="1.3"/>
<line x1="1648.1" y1="484.6" x2="1648.1" y2="710.7" stroke="#fafafa" stroke-width="1.3"/>
<line x1="1712.73" y1="484.6" x2="1712.73" y2="710.7" stroke="#fafafa" stroke-width="1.3"/>
<line x1="1777.37" y1="484.6" x2="1777.37" y2="710.7" stroke="#fafafa" stroke-width="1.3"/>
<line x1="1842" y1="484.6" x2="1842" y2="710.7" stroke="#fafafa" stroke-width="1.3"/>
<line x1="1434" y1="506.4" x2="1861.7" y2="506.4" stroke="#fafafa" stroke-width="1.3"/>
<line x1="1434" y1="543.1" x2="1861.7" y2="543.1" stroke="#fafafa" stroke-width="1.3"/>
<line x1="1434" y1="579.5" x2="1861.7" y2="579.5" stroke="#fafafa" stroke-width="1.3"/>
<line x1="1434" y1="616.2" x2="1861.7" y2="616.2" stroke="#fafafa" stroke-width="1.3"/>
<line x1="1434" y1="653" x2="1861.7" y2="653" stroke="#fafafa" stroke-width="1.3"/>
<line x1="1434" y1="689.4" x2="1861.7" y2="689.4" stroke="#fafafa" stroke-width="1.3"/>
<line x1="1700.4" y1="484.6" x2="1700.4" y2="710.7" stroke="#7a7a7a" stroke-width="1.3" stroke-dasharray="4,3.5"/>
<circle cx="1581" cy="506.4" r="7.3" fill="#e0643a"/>
<circle cx="1582.3" cy="543.1" r="7.3" fill="#e0643a"/>
<circle cx="1523.8" cy="579.5" r="7.3" fill="#e0643a"/>
<circle cx="1568" cy="616.2" r="7.3" fill="#e0643a"/>
<circle cx="1582.3" cy="653" r="7.3" fill="#e0643a"/>
<circle cx="1589" cy="689.4" r="7.3" fill="#e0643a"/>
<polygon points="1696.9,495.5 1706.34,511.85 1687.46,511.85" fill="#3b87c1"/>
<polygon points="1695.7,532.2 1705.14,548.55 1686.26,548.55" fill="#3b87c1"/>
<polygon points="1700.4,568.6 1709.84,584.95 1690.96,584.95" fill="#3b87c1"/>
<polygon points="1697.7,605.3 1707.14,621.65 1688.26,621.65" fill="#3b87c1"/>
<polygon points="1696.5,642.1 1705.94,658.45 1687.06,658.45" fill="#3b87c1"/>
<polygon points="1698,678.5 1707.44,694.85 1688.56,694.85" fill="#3b87c1"/>
<line x1="1434" y1="484.6" x2="1434" y2="711.4" stroke="#222" stroke-width="1.4"/>
<line x1="1433.3" y1="710.7" x2="1861.7" y2="710.7" stroke="#000" stroke-width="1.5"/>
<line x1="1431.5" y1="506.4" x2="1434" y2="506.4" stroke="#333" stroke-width="1.1"/>
<line x1="1431.5" y1="543.1" x2="1434" y2="543.1" stroke="#333" stroke-width="1.1"/>
<line x1="1431.5" y1="579.5" x2="1434" y2="579.5" stroke="#333" stroke-width="1.1"/>
<line x1="1431.5" y1="616.2" x2="1434" y2="616.2" stroke="#333" stroke-width="1.1"/>
<line x1="1431.5" y1="653" x2="1434" y2="653" stroke="#333" stroke-width="1.1"/>
<line x1="1431.5" y1="689.4" x2="1434" y2="689.4" stroke="#333" stroke-width="1.1"/>
<line x1="1454.2" y1="710.7" x2="1454.2" y2="713.2" stroke="#333" stroke-width="1"/>
<text x="1445.93" y="723" font-family="'Liberation Serif', 'Times New Roman', serif" font-size="13" font-weight="normal" fill="#000">0.4</text>
<line x1="1518.83" y1="710.7" x2="1518.83" y2="713.2" stroke="#333" stroke-width="1"/>
<text x="1510.71" y="723" font-family="'Liberation Serif', 'Times New Roman', serif" font-size="13" font-weight="normal" fill="#000">0.5</text>
<line x1="1583.47" y1="710.7" x2="1583.47" y2="713.2" stroke="#333" stroke-width="1"/>
<text x="1575.29" y="723" font-family="'Liberation Serif', 'Times New Roman', serif" font-size="13" font-weight="normal" fill="#000">0.6</text>
<line x1="1648.1" y1="710.7" x2="1648.1" y2="713.2" stroke="#333" stroke-width="1"/>
<text x="1639.91" y="723" font-family="'Liberation Serif', 'Times New Roman', serif" font-size="13" font-weight="normal" fill="#000">0.7</text>
<line x1="1712.73" y1="710.7" x2="1712.73" y2="713.2" stroke="#333" stroke-width="1"/>
<text x="1704.61" y="723" font-family="'Liberation Serif', 'Times New Roman', serif" font-size="13" font-weight="normal" fill="#000">0.8</text>
<line x1="1777.37" y1="710.7" x2="1777.37" y2="713.2" stroke="#333" stroke-width="1"/>
<text x="1769.26" y="723" font-family="'Liberation Serif', 'Times New Roman', serif" font-size="13" font-weight="normal" fill="#000">0.9</text>
<line x1="1842" y1="710.7" x2="1842" y2="713.2" stroke="#333" stroke-width="1"/>
<text x="1833.55" y="723" font-family="'Liberation Serif', 'Times New Roman', serif" font-size="13" font-weight="normal" fill="#000">1.0</text>
<text x="1245.98" y="510.9" font-family="'Liberation Sans', Arial, Helvetica, sans-serif" font-size="19.4" font-weight="normal" fill="#000">UICC staging system</text>
<text x="1204.61" y="547.6" font-family="'Liberation Sans', Arial, Helvetica, sans-serif" font-size="19.4" font-weight="normal" fill="#000">ITA.LI.CA staging system</text>
<text x="1238.95" y="584" font-family="'Liberation Sans', Arial, Helvetica, sans-serif" font-size="19.4" font-weight="normal" fill="#000">HKLC staging system</text>
<text x="1240.58" y="620.7" font-family="'Liberation Sans', Arial, Helvetica, sans-serif" font-size="19.4" font-weight="normal" fill="#000">CNLC staging system</text>
<text x="1241.65" y="657.5" font-family="'Liberation Sans', Arial, Helvetica, sans-serif" font-size="19.4" font-weight="normal" fill="#000">BCLC staging system</text>
<text x="1244.74" y="693.9" font-family="'Liberation Sans', Arial, Helvetica, sans-serif" font-size="19.4" font-weight="normal" fill="#000">AJCC staging system</text>
<text x="1637.93" y="744.7" font-family="'Liberation Sans', Arial, Helvetica, sans-serif" font-size="17.8" font-weight="normal" fill="#000">AUC</text>
<text x="1182.13" y="401.6" font-family="'Liberation Sans', Arial, Helvetica, sans-serif" font-size="27.5" font-weight="bold" fill="#231f20">f</text>
<text x="1226.28" y="402.8" font-family="'Liberation Sans', Arial, Helvetica, sans-serif" font-size="27.25" font-weight="bold" fill="#000">Major staging systems vs. HEROVision (2ndTA dataset)</text>
<rect x="1295.9" y="418.1" width="21" height="19" fill="#ebebeb"/>
<circle cx="1306.4" cy="427.5" r="7.4" fill="#e0643a"/>
<text x="1319.6" y="434.8" font-family="'Liberation Sans', Arial, Helvetica, sans-serif" font-size="20.7" font-weight="normal" fill="#000">Before using HEROVision</text>
<rect x="1297.8" y="445.5" width="21" height="19.8" fill="#ebebeb"/>
<polygon points="1308.3,445.9 1318,462.7 1298.6,462.7" fill="#3b87c1"/>
<text x="1322.46" y="462.9" font-family="'Liberation Sans', Arial, Helvetica, sans-serif" font-size="20.7" font-weight="normal" fill="#000">After using HEROVision</text>
<g transform="translate(35.8,383.7) scale(1.0)">
<g fill="none" stroke="#000" stroke-width="1.6" stroke-linejoin="round" stroke-linecap="round">
<path d="M1652.6,43.9 L1650.0,44.4 L1650.6,51.6 L1652.8,51.8" stroke-width="1.4"/>
<path d="M1673.9,43.3 L1676.4,43.3 L1676.0,51.7 L1673.9,51.8" stroke-width="1.4"/>
<path d="M1653.0,54.5 L1653.0,42.0 Q1653.0,37.6 1657.6,37.6 L1668.8,37.6 Q1673.4,37.6 1673.4,42.0 L1673.4,54.5" fill="#fff"/>
<path d="M1656.9,45.8 L1663.4,40.8 L1669.7,45.8 L1663.4,50.9 Z M1656.9,45.8 L1669.7,45.8 M1663.4,40.8 L1663.4,50.9" stroke-width="0.8"/>
<circle cx="1656.9" cy="45.8" r="1.15" fill="#fff" stroke-width="0.75"/>
<circle cx="1663.4" cy="40.8" r="1.15" fill="#fff" stroke-width="0.75"/>
<circle cx="1669.7" cy="45.8" r="1.15" fill="#fff" stroke-width="0.75"/>
<circle cx="1663.4" cy="50.9" r="1.15" fill="#fff" stroke-width="0.75"/>
<circle cx="1663.4" cy="45.8" r="1.15" fill="#fff" stroke-width="0.75"/>
<path d="M1643.2,58.6 C1647,55.5 1655,53.0 1662.3,52.9 C1668,52.9 1676,53.6 1681.4,56.7 L1680.8,59.6 L1682.0,65.9 L1682.4,69.5 L1681.1,72.3 C1680,75 1679,75.5 1678.2,75.5 L1671.8,75.5 L1669.3,73.6 L1663.9,74.2 C1660,75.8 1657,77.2 1655.9,77.4 L1649.6,78.7 C1647,78.8 1645.5,78.5 1645.1,78.0 C1643.6,76.8 1643.4,76 1643.5,75.5 L1643.5,69.1 L1644.1,61.1 Z" fill="#fff" stroke="none"/>
<path d="M1643.2,58.6 C1647,55.5 1655,53.0 1662.3,52.9 C1668,52.9 1676,53.6 1681.4,56.7"/>
<path d="M1643.2,58.6 L1644.1,61.1 L1643.5,69.1 L1643.5,75.5 C1643.6,77.3 1645.5,78.6 1649.6,78.7"/>
<path d="M1648.9,57.3 C1652,55.8 1656,54.9 1659.7,54.8 C1664,54.6 1668,54.3 1671.8,54.5 C1674,54.8 1675.5,55.4 1676.3,56.2"/>
<path d="M1648.9,57.3 C1649.2,59.5 1649.6,61 1650.2,62.1 C1651.2,63.8 1652.2,64.6 1653.4,65.0 L1656.6,65.9"/>
<path d="M1645.4,74.5 L1655.3,67.2 C1659,65.4 1662,64.2 1665.5,63.4 C1668,62.7 1670,62.2 1671.8,62.1 C1673.2,62.1 1674.3,62.3 1675.0,62.7 C1675.7,63.2 1675.6,64 1675.4,64.6 L1673.6,66.6"/>
<path d="M1645.6,75.6 C1646.5,77.4 1648,78.3 1649.6,78.3 C1651.6,78.3 1653.8,77.9 1655.9,77.4 L1663.9,74.2 C1666,73.3 1668,72.7 1670.3,72.3 L1676.6,70.1 C1678.5,69.7 1679.8,69.6 1680.8,69.7"/>
<path d="M1669.3,73.6 C1670.2,74.8 1670.8,75.3 1671.8,75.5 L1678.2,75.5 C1680,75 1681,73.6 1681.1,72.3 C1681.2,71.2 1681.1,70.3 1680.8,69.7"/>
<path d="M1644.8,59.2 L1648.3,63.4 M1646.4,64.3 L1645.6,72.4 M1646.4,64.3 L1650.5,65.6 M1676.6,56.4 L1676.6,67.8 M1677.3,59.9 L1681.1,56.7 M1681.4,56.7 L1680.8,59.6 L1682.0,65.9 L1682.4,69.0 M1673.4,64.6 L1673.8,67.5" stroke-width="1.2"/>
</g>
<polygon points="1640.0,81.0 1689.8,68.8 1689.8,84.8 1646.5,96.2 1646.2,97.2 1640.0,97.2" fill="#000"/>
<polygon points="1642.4,82.9 1687.5,72.0 1687.5,81.9 1642.4,93.7" fill="#fff"/>
<text transform="translate(1665.0,82.9) rotate(-13.3) scale(0.7,1)" x="0" y="3.9" text-anchor="middle" font-family="'Liberation Sans', Arial, sans-serif" font-weight="bold" font-size="11" fill="#000" stroke="#000" stroke-width="0.6">HEROVision</text>
</g>
<rect x="1436" y="869.9" width="426.5" height="226.9" fill="#e4e4e4"/>
<line x1="1487.71" y1="869.9" x2="1487.71" y2="1096.8" stroke="#fff" stroke-width="0.6"/>
<line x1="1552.33" y1="869.9" x2="1552.33" y2="1096.8" stroke="#fff" stroke-width="0.6"/>
<line x1="1616.94" y1="869.9" x2="1616.94" y2="1096.8" stroke="#fff" stroke-width="0.6"/>
<line x1="1681.56" y1="869.9" x2="1681.56" y2="1096.8" stroke="#fff" stroke-width="0.6"/>
<line x1="1746.17" y1="869.9" x2="1746.17" y2="1096.8" stroke="#fff" stroke-width="0.6"/>
<line x1="1455.4" y1="869.9" x2="1455.4" y2="1096.8" stroke="#fafafa" stroke-width="1.3"/>
<line x1="1520.02" y1="869.9" x2="1520.02" y2="1096.8" stroke="#fafafa" stroke-width="1.3"/>
<line x1="1584.63" y1="869.9" x2="1584.63" y2="1096.8" stroke="#fafafa" stroke-width="1.3"/>
<line x1="1649.25" y1="869.9" x2="1649.25" y2="1096.8" stroke="#fafafa" stroke-width="1.3"/>
<line x1="1713.87" y1="869.9" x2="1713.87" y2="1096.8" stroke="#fafafa" stroke-width="1.3"/>
<line x1="1778.48" y1="869.9" x2="1778.48" y2="1096.8" stroke="#fafafa" stroke-width="1.3"/>
<line x1="1843.1" y1="869.9" x2="1843.1" y2="1096.8" stroke="#fafafa" stroke-width="1.3"/>
<line x1="1436" y1="891.6" x2="1862.5" y2="891.6" stroke="#fafafa" stroke-width="1.3"/>
<line x1="1436" y1="928.8" x2="1862.5" y2="928.8" stroke="#fafafa" stroke-width="1.3"/>
<line x1="1436" y1="964.7" x2="1862.5" y2="964.7" stroke="#fafafa" stroke-width="1.3"/>
<line x1="1436" y1="1001.1" x2="1862.5" y2="1001.1" stroke="#fafafa" stroke-width="1.3"/>
<line x1="1436" y1="1037.9" x2="1862.5" y2="1037.9" stroke="#fafafa" stroke-width="1.3"/>
<line x1="1436" y1="1074.2" x2="1862.5" y2="1074.2" stroke="#fafafa" stroke-width="1.3"/>
<line x1="1656.2" y1="869.9" x2="1656.2" y2="1096.8" stroke="#7a7a7a" stroke-width="1.3" stroke-dasharray="4,3.5"/>
<circle cx="1564.5" cy="891.6" r="7.3" fill="#e0643a"/>
<circle cx="1560.5" cy="928.8" r="7.3" fill="#e0643a"/>
<circle cx="1541.5" cy="964.7" r="7.3" fill="#e0643a"/>
<circle cx="1566.4" cy="1001.1" r="7.3" fill="#e0643a"/>
<circle cx="1557.4" cy="1037.9" r="7.3" fill="#e0643a"/>
<circle cx="1564.5" cy="1074.2" r="7.3" fill="#e0643a"/>
<polygon points="1659.3,880.7 1668.74,897.05 1649.86,897.05" fill="#3b87c1"/>
<polygon points="1659.3,917.9 1668.74,934.25 1649.86,934.25" fill="#3b87c1"/>
<polygon points="1657,953.8 1666.44,970.15 1647.56,970.15" fill="#3b87c1"/>
<polygon points="1660.1,990.2 1669.54,1006.55 1650.66,1006.55" fill="#3b87c1"/>
<polygon points="1658.5,1027 1667.94,1043.35 1649.06,1043.35" fill="#3b87c1"/>
<polygon points="1658.9,1063.3 1668.34,1079.65 1649.46,1079.65" fill="#3b87c1"/>
<line x1="1436" y1="869.9" x2="1436" y2="1097.5" stroke="#222" stroke-width="1.4"/>
<line x1="1435.3" y1="1096.8" x2="1862.5" y2="1096.8" stroke="#000" stroke-width="1.5"/>
<line x1="1433.5" y1="891.6" x2="1436" y2="891.6" stroke="#333" stroke-width="1.1"/>
<line x1="1433.5" y1="928.8" x2="1436" y2="928.8" stroke="#333" stroke-width="1.1"/>
<line x1="1433.5" y1="964.7" x2="1436" y2="964.7" stroke="#333" stroke-width="1.1"/>
<line x1="1433.5" y1="1001.1" x2="1436" y2="1001.1" stroke="#333" stroke-width="1.1"/>
<line x1="1433.5" y1="1037.9" x2="1436" y2="1037.9" stroke="#333" stroke-width="1.1"/>
<line x1="1433.5" y1="1074.2" x2="1436" y2="1074.2" stroke="#333" stroke-width="1.1"/>
<line x1="1455.4" y1="1096.8" x2="1455.4" y2="1099.3" stroke="#333" stroke-width="1"/>
<text x="1447.13" y="1109.8" font-family="'Liberation Serif', 'Times New Roman', serif" font-size="13" font-weight="normal" fill="#000">0.4</text>
<line x1="1520.02" y1="1096.8" x2="1520.02" y2="1099.3" stroke="#333" stroke-width="1"/>
<text x="1511.9" y="1109.8" font-family="'Liberation Serif', 'Times New Roman', serif" font-size="13" font-weight="normal" fill="#000">0.5</text>
<line x1="1584.63" y1="1096.8" x2="1584.63" y2="1099.3" stroke="#333" stroke-width="1"/>
<text x="1576.45" y="1109.8" font-family="'Liberation Serif', 'Times New Roman', serif" font-size="13" font-weight="normal" fill="#000">0.6</text>
<line x1="1649.25" y1="1096.8" x2="1649.25" y2="1099.3" stroke="#333" stroke-width="1"/>
<text x="1641.06" y="1109.8" font-family="'Liberation Serif', 'Times New Roman', serif" font-size="13" font-weight="normal" fill="#000">0.7</text>
<line x1="1713.87" y1="1096.8" x2="1713.87" y2="1099.3" stroke="#333" stroke-width="1"/>
<text x="1705.74" y="1109.8" font-family="'Liberation Serif', 'Times New Roman', serif" font-size="13" font-weight="normal" fill="#000">0.8</text>
<line x1="1778.48" y1="1096.8" x2="1778.48" y2="1099.3" stroke="#333" stroke-width="1"/>
<text x="1770.38" y="1109.8" font-family="'Liberation Serif', 'Times New Roman', serif" font-size="13" font-weight="normal" fill="#000">0.9</text>
<line x1="1843.1" y1="1096.8" x2="1843.1" y2="1099.3" stroke="#333" stroke-width="1"/>
<text x="1834.65" y="1109.8" font-family="'Liberation Serif', 'Times New Roman', serif" font-size="13" font-weight="normal" fill="#000">1.0</text>
<text x="1249.08" y="896.1" font-family="'Liberation Sans', Arial, Helvetica, sans-serif" font-size="19.4" font-weight="normal" fill="#000">UICC staging system</text>
<text x="1208.11" y="933.3" font-family="'Liberation Sans', Arial, Helvetica, sans-serif" font-size="19.4" font-weight="normal" fill="#000">ITA.LI.CA staging system</text>
<text x="1242.45" y="969.2" font-family="'Liberation Sans', Arial, Helvetica, sans-serif" font-size="19.4" font-weight="normal" fill="#000">HKLC staging system</text>
<text x="1243.68" y="1005.6" font-family="'Liberation Sans', Arial, Helvetica, sans-serif" font-size="19.4" font-weight="normal" fill="#000">CNLC staging system</text>
<text x="1245.65" y="1042.4" font-family="'Liberation Sans', Arial, Helvetica, sans-serif" font-size="19.4" font-weight="normal" fill="#000">BCLC staging system</text>
<text x="1248.64" y="1078.7" font-family="'Liberation Sans', Arial, Helvetica, sans-serif" font-size="19.4" font-weight="normal" fill="#000">AJCC staging system</text>
<text x="1629.18" y="1131.5" font-family="'Liberation Sans', Arial, Helvetica, sans-serif" font-size="17.8" font-weight="normal" fill="#000">C-index</text>
<text x="1181.83" y="788.8" font-family="'Liberation Sans', Arial, Helvetica, sans-serif" font-size="28.5" font-weight="bold" fill="#231f20">g</text>
<text x="1224.28" y="796.4" font-family="'Liberation Sans', Arial, Helvetica, sans-serif" font-size="27.25" font-weight="bold" fill="#000">Major staging systems vs. HEROVision (2ndSR dataset)</text>
<rect x="1298.6" y="806.9" width="21" height="19" fill="#ebebeb"/>
<circle cx="1309.1" cy="816.3" r="7.4" fill="#e0643a"/>
<text x="1322.7" y="824" font-family="'Liberation Sans', Arial, Helvetica, sans-serif" font-size="20.7" font-weight="normal" fill="#000">Before using HEROVision</text>
<rect x="1299.8" y="834.6" width="21" height="19.8" fill="#ebebeb"/>
<polygon points="1310.3,835 1320,851.8 1300.6,851.8" fill="#3b87c1"/>
<text x="1325.26" y="851.7" font-family="'Liberation Sans', Arial, Helvetica, sans-serif" font-size="20.7" font-weight="normal" fill="#000">After using HEROVision</text>
<g transform="translate(-6.1,768.1) scale(1.0)">
<g fill="none" stroke="#000" stroke-width="1.6" stroke-linejoin="round" stroke-linecap="round">
<path d="M1652.6,43.9 L1650.0,44.4 L1650.6,51.6 L1652.8,51.8" stroke-width="1.4"/>
<path d="M1673.9,43.3 L1676.4,43.3 L1676.0,51.7 L1673.9,51.8" stroke-width="1.4"/>
<path d="M1653.0,54.5 L1653.0,42.0 Q1653.0,37.6 1657.6,37.6 L1668.8,37.6 Q1673.4,37.6 1673.4,42.0 L1673.4,54.5" fill="#fff"/>
<path d="M1656.9,45.8 L1663.4,40.8 L1669.7,45.8 L1663.4,50.9 Z M1656.9,45.8 L1669.7,45.8 M1663.4,40.8 L1663.4,50.9" stroke-width="0.8"/>
<circle cx="1656.9" cy="45.8" r="1.15" fill="#fff" stroke-width="0.75"/>
<circle cx="1663.4" cy="40.8" r="1.15" fill="#fff" stroke-width="0.75"/>
<circle cx="1669.7" cy="45.8" r="1.15" fill="#fff" stroke-width="0.75"/>
<circle cx="1663.4" cy="50.9" r="1.15" fill="#fff" stroke-width="0.75"/>
<circle cx="1663.4" cy="45.8" r="1.15" fill="#fff" stroke-width="0.75"/>
<path d="M1643.2,58.6 C1647,55.5 1655,53.0 1662.3,52.9 C1668,52.9 1676,53.6 1681.4,56.7 L1680.8,59.6 L1682.0,65.9 L1682.4,69.5 L1681.1,72.3 C1680,75 1679,75.5 1678.2,75.5 L1671.8,75.5 L1669.3,73.6 L1663.9,74.2 C1660,75.8 1657,77.2 1655.9,77.4 L1649.6,78.7 C1647,78.8 1645.5,78.5 1645.1,78.0 C1643.6,76.8 1643.4,76 1643.5,75.5 L1643.5,69.1 L1644.1,61.1 Z" fill="#fff" stroke="none"/>
<path d="M1643.2,58.6 C1647,55.5 1655,53.0 1662.3,52.9 C1668,52.9 1676,53.6 1681.4,56.7"/>
<path d="M1643.2,58.6 L1644.1,61.1 L1643.5,69.1 L1643.5,75.5 C1643.6,77.3 1645.5,78.6 1649.6,78.7"/>
<path d="M1648.9,57.3 C1652,55.8 1656,54.9 1659.7,54.8 C1664,54.6 1668,54.3 1671.8,54.5 C1674,54.8 1675.5,55.4 1676.3,56.2"/>
<path d="M1648.9,57.3 C1649.2,59.5 1649.6,61 1650.2,62.1 C1651.2,63.8 1652.2,64.6 1653.4,65.0 L1656.6,65.9"/>
<path d="M1645.4,74.5 L1655.3,67.2 C1659,65.4 1662,64.2 1665.5,63.4 C1668,62.7 1670,62.2 1671.8,62.1 C1673.2,62.1 1674.3,62.3 1675.0,62.7 C1675.7,63.2 1675.6,64 1675.4,64.6 L1673.6,66.6"/>
<path d="M1645.6,75.6 C1646.5,77.4 1648,78.3 1649.6,78.3 C1651.6,78.3 1653.8,77.9 1655.9,77.4 L1663.9,74.2 C1666,73.3 1668,72.7 1670.3,72.3 L1676.6,70.1 C1678.5,69.7 1679.8,69.6 1680.8,69.7"/>
<path d="M1669.3,73.6 C1670.2,74.8 1670.8,75.3 1671.8,75.5 L1678.2,75.5 C1680,75 1681,73.6 1681.1,72.3 C1681.2,71.2 1681.1,70.3 1680.8,69.7"/>
<path d="M1644.8,59.2 L1648.3,63.4 M1646.4,64.3 L1645.6,72.4 M1646.4,64.3 L1650.5,65.6 M1676.6,56.4 L1676.6,67.8 M1677.3,59.9 L1681.1,56.7 M1681.4,56.7 L1680.8,59.6 L1682.0,65.9 L1682.4,69.0 M1673.4,64.6 L1673.8,67.5" stroke-width="1.2"/>
</g>
<polygon points="1640.0,81.0 1689.8,68.8 1689.8,84.8 1646.5,96.2 1646.2,97.2 1640.0,97.2" fill="#000"/>
<polygon points="1642.4,82.9 1687.5,72.0 1687.5,81.9 1642.4,93.7" fill="#fff"/>
<text transform="translate(1665.0,82.9) rotate(-13.3) scale(0.7,1)" x="0" y="3.9" text-anchor="middle" font-family="'Liberation Sans', Arial, sans-serif" font-weight="bold" font-size="11" fill="#000" stroke="#000" stroke-width="0.6">HEROVision</text>
</g>
<rect x="1438.8" y="1245.8" width="426.8" height="226.1" fill="#e4e4e4"/>
<line x1="1490.85" y1="1245.8" x2="1490.85" y2="1471.9" stroke="#fff" stroke-width="0.6"/>
<line x1="1555.55" y1="1245.8" x2="1555.55" y2="1471.9" stroke="#fff" stroke-width="0.6"/>
<line x1="1620.25" y1="1245.8" x2="1620.25" y2="1471.9" stroke="#fff" stroke-width="0.6"/>
<line x1="1684.95" y1="1245.8" x2="1684.95" y2="1471.9" stroke="#fff" stroke-width="0.6"/>
<line x1="1749.65" y1="1245.8" x2="1749.65" y2="1471.9" stroke="#fff" stroke-width="0.6"/>
<line x1="1458.5" y1="1245.8" x2="1458.5" y2="1471.9" stroke="#fafafa" stroke-width="1.3"/>
<line x1="1523.2" y1="1245.8" x2="1523.2" y2="1471.9" stroke="#fafafa" stroke-width="1.3"/>
<line x1="1587.9" y1="1245.8" x2="1587.9" y2="1471.9" stroke="#fafafa" stroke-width="1.3"/>
<line x1="1652.6" y1="1245.8" x2="1652.6" y2="1471.9" stroke="#fafafa" stroke-width="1.3"/>
<line x1="1717.3" y1="1245.8" x2="1717.3" y2="1471.9" stroke="#fafafa" stroke-width="1.3"/>
<line x1="1782" y1="1245.8" x2="1782" y2="1471.9" stroke="#fafafa" stroke-width="1.3"/>
<line x1="1846.7" y1="1245.8" x2="1846.7" y2="1471.9" stroke="#fafafa" stroke-width="1.3"/>
<line x1="1438.8" y1="1267.5" x2="1865.6" y2="1267.5" stroke="#fafafa" stroke-width="1.3"/>
<line x1="1438.8" y1="1303.9" x2="1865.6" y2="1303.9" stroke="#fafafa" stroke-width="1.3"/>
<line x1="1438.8" y1="1340.7" x2="1865.6" y2="1340.7" stroke="#fafafa" stroke-width="1.3"/>
<line x1="1438.8" y1="1377.4" x2="1865.6" y2="1377.4" stroke="#fafafa" stroke-width="1.3"/>
<line x1="1438.8" y1="1413.8" x2="1865.6" y2="1413.8" stroke="#fafafa" stroke-width="1.3"/>
<line x1="1438.8" y1="1450.2" x2="1865.6" y2="1450.2" stroke="#fafafa" stroke-width="1.3"/>
<line x1="1725.3" y1="1245.8" x2="1725.3" y2="1471.9" stroke="#7a7a7a" stroke-width="1.3" stroke-dasharray="4,3.5"/>
<circle cx="1568.4" cy="1267.5" r="7.3" fill="#e0643a"/>
<circle cx="1564.5" cy="1303.9" r="7.3" fill="#e0643a"/>
<circle cx="1562.5" cy="1340.7" r="7.3" fill="#e0643a"/>
<circle cx="1592.1" cy="1377.4" r="7.3" fill="#e0643a"/>
<circle cx="1557.4" cy="1413.8" r="7.3" fill="#e0643a"/>
<circle cx="1573.2" cy="1450.2" r="7.3" fill="#e0643a"/>
<polygon points="1724.5,1256.6 1733.94,1272.95 1715.06,1272.95" fill="#3b87c1"/>
<polygon points="1722.6,1293 1732.04,1309.35 1713.16,1309.35" fill="#3b87c1"/>
<polygon points="1718.6,1329.8 1728.04,1346.15 1709.16,1346.15" fill="#3b87c1"/>
<polygon points="1725.3,1366.5 1734.74,1382.85 1715.86,1382.85" fill="#3b87c1"/>
<polygon points="1721.8,1402.9 1731.24,1419.25 1712.36,1419.25" fill="#3b87c1"/>
<polygon points="1723.4,1439.3 1732.84,1455.65 1713.96,1455.65" fill="#3b87c1"/>
<line x1="1438.8" y1="1245.8" x2="1438.8" y2="1472.6" stroke="#222" stroke-width="1.4"/>
<line x1="1438.1" y1="1471.9" x2="1865.6" y2="1471.9" stroke="#000" stroke-width="1.5"/>
<line x1="1436.3" y1="1267.5" x2="1438.8" y2="1267.5" stroke="#333" stroke-width="1.1"/>
<line x1="1436.3" y1="1303.9" x2="1438.8" y2="1303.9" stroke="#333" stroke-width="1.1"/>
<line x1="1436.3" y1="1340.7" x2="1438.8" y2="1340.7" stroke="#333" stroke-width="1.1"/>
<line x1="1436.3" y1="1377.4" x2="1438.8" y2="1377.4" stroke="#333" stroke-width="1.1"/>
<line x1="1436.3" y1="1413.8" x2="1438.8" y2="1413.8" stroke="#333" stroke-width="1.1"/>
<line x1="1436.3" y1="1450.2" x2="1438.8" y2="1450.2" stroke="#333" stroke-width="1.1"/>
<line x1="1458.5" y1="1471.9" x2="1458.5" y2="1474.4" stroke="#333" stroke-width="1"/>
<text x="1450.23" y="1485" font-family="'Liberation Serif', 'Times New Roman', serif" font-size="13" font-weight="normal" fill="#000">0.4</text>
<line x1="1523.2" y1="1471.9" x2="1523.2" y2="1474.4" stroke="#333" stroke-width="1"/>
<text x="1515.08" y="1485" font-family="'Liberation Serif', 'Times New Roman', serif" font-size="13" font-weight="normal" fill="#000">0.5</text>
<line x1="1587.9" y1="1471.9" x2="1587.9" y2="1474.4" stroke="#333" stroke-width="1"/>
<text x="1579.72" y="1485" font-family="'Liberation Serif', 'Times New Roman', serif" font-size="13" font-weight="normal" fill="#000">0.6</text>
<line x1="1652.6" y1="1471.9" x2="1652.6" y2="1474.4" stroke="#333" stroke-width="1"/>
<text x="1644.41" y="1485" font-family="'Liberation Serif', 'Times New Roman', serif" font-size="13" font-weight="normal" fill="#000">0.7</text>
<line x1="1717.3" y1="1471.9" x2="1717.3" y2="1474.4" stroke="#333" stroke-width="1"/>
<text x="1709.18" y="1485" font-family="'Liberation Serif', 'Times New Roman', serif" font-size="13" font-weight="normal" fill="#000">0.8</text>
<line x1="1782" y1="1471.9" x2="1782" y2="1474.4" stroke="#333" stroke-width="1"/>
<text x="1773.89" y="1485" font-family="'Liberation Serif', 'Times New Roman', serif" font-size="13" font-weight="normal" fill="#000">0.9</text>
<line x1="1846.7" y1="1471.9" x2="1846.7" y2="1474.4" stroke="#333" stroke-width="1"/>
<text x="1838.25" y="1485" font-family="'Liberation Serif', 'Times New Roman', serif" font-size="13" font-weight="normal" fill="#000">1.0</text>
<text x="1251.88" y="1272" font-family="'Liberation Sans', Arial, Helvetica, sans-serif" font-size="19.4" font-weight="normal" fill="#000">UICC staging system</text>
<text x="1210.11" y="1308.4" font-family="'Liberation Sans', Arial, Helvetica, sans-serif" font-size="19.4" font-weight="normal" fill="#000">ITA.LI.CA staging system</text>
<text x="1245.65" y="1345.2" font-family="'Liberation Sans', Arial, Helvetica, sans-serif" font-size="19.4" font-weight="normal" fill="#000">HKLC staging system</text>
<text x="1246.48" y="1381.9" font-family="'Liberation Sans', Arial, Helvetica, sans-serif" font-size="19.4" font-weight="normal" fill="#000">CNLC staging system</text>
<text x="1247.55" y="1418.3" font-family="'Liberation Sans', Arial, Helvetica, sans-serif" font-size="19.4" font-weight="normal" fill="#000">BCLC staging system</text>
<text x="1249.84" y="1454.7" font-family="'Liberation Sans', Arial, Helvetica, sans-serif" font-size="19.4" font-weight="normal" fill="#000">AJCC staging system</text>
<text x="1642.63" y="1505.5" font-family="'Liberation Sans', Arial, Helvetica, sans-serif" font-size="17.8" font-weight="normal" fill="#000">AUC</text>
<text x="1183.88" y="1168.7" font-family="'Liberation Sans', Arial, Helvetica, sans-serif" font-size="27.5" font-weight="bold" fill="#231f20">h</text>
<text x="1226.68" y="1168.7" font-family="'Liberation Sans', Arial, Helvetica, sans-serif" font-size="27.25" font-weight="bold" fill="#000">Major staging systems vs. HEROVision (2ndSR dataset)</text>
<rect x="1301" y="1178.5" width="21" height="19" fill="#ebebeb"/>
<circle cx="1311.5" cy="1187.9" r="7.4" fill="#e0643a"/>
<text x="1324.7" y="1195" font-family="'Liberation Sans', Arial, Helvetica, sans-serif" font-size="20.7" font-weight="normal" fill="#000">Before using HEROVision</text>
<rect x="1302.6" y="1205.8" width="21" height="19.8" fill="#ebebeb"/>
<polygon points="1313.1,1206.2 1322.8,1223 1303.4,1223" fill="#3b87c1"/>
<text x="1327.36" y="1222.8" font-family="'Liberation Sans', Arial, Helvetica, sans-serif" font-size="20.7" font-weight="normal" fill="#000">After using HEROVision</text>
<g transform="translate(64.3,1144.4) scale(1.0)">
<g fill="none" stroke="#000" stroke-width="1.6" stroke-linejoin="round" stroke-linecap="round">
<path d="M1652.6,43.9 L1650.0,44.4 L1650.6,51.6 L1652.8,51.8" stroke-width="1.4"/>
<path d="M1673.9,43.3 L1676.4,43.3 L1676.0,51.7 L1673.9,51.8" stroke-width="1.4"/>
<path d="M1653.0,54.5 L1653.0,42.0 Q1653.0,37.6 1657.6,37.6 L1668.8,37.6 Q1673.4,37.6 1673.4,42.0 L1673.4,54.5" fill="#fff"/>
<path d="M1656.9,45.8 L1663.4,40.8 L1669.7,45.8 L1663.4,50.9 Z M1656.9,45.8 L1669.7,45.8 M1663.4,40.8 L1663.4,50.9" stroke-width="0.8"/>
<circle cx="1656.9" cy="45.8" r="1.15" fill="#fff" stroke-width="0.75"/>
<circle cx="1663.4" cy="40.8" r="1.15" fill="#fff" stroke-width="0.75"/>
<circle cx="1669.7" cy="45.8" r="1.15" fill="#fff" stroke-width="0.75"/>
<circle cx="1663.4" cy="50.9" r="1.15" fill="#fff" stroke-width="0.75"/>
<circle cx="1663.4" cy="45.8" r="1.15" fill="#fff" stroke-width="0.75"/>
<path d="M1643.2,58.6 C1647,55.5 1655,53.0 1662.3,52.9 C1668,52.9 1676,53.6 1681.4,56.7 L1680.8,59.6 L1682.0,65.9 L1682.4,69.5 L1681.1,72.3 C1680,75 1679,75.5 1678.2,75.5 L1671.8,75.5 L1669.3,73.6 L1663.9,74.2 C1660,75.8 1657,77.2 1655.9,77.4 L1649.6,78.7 C1647,78.8 1645.5,78.5 1645.1,78.0 C1643.6,76.8 1643.4,76 1643.5,75.5 L1643.5,69.1 L1644.1,61.1 Z" fill="#fff" stroke="none"/>
<path d="M1643.2,58.6 C1647,55.5 1655,53.0 1662.3,52.9 C1668,52.9 1676,53.6 1681.4,56.7"/>
<path d="M1643.2,58.6 L1644.1,61.1 L1643.5,69.1 L1643.5,75.5 C1643.6,77.3 1645.5,78.6 1649.6,78.7"/>
<path d="M1648.9,57.3 C1652,55.8 1656,54.9 1659.7,54.8 C1664,54.6 1668,54.3 1671.8,54.5 C1674,54.8 1675.5,55.4 1676.3,56.2"/>
<path d="M1648.9,57.3 C1649.2,59.5 1649.6,61 1650.2,62.1 C1651.2,63.8 1652.2,64.6 1653.4,65.0 L1656.6,65.9"/>
<path d="M1645.4,74.5 L1655.3,67.2 C1659,65.4 1662,64.2 1665.5,63.4 C1668,62.7 1670,62.2 1671.8,62.1 C1673.2,62.1 1674.3,62.3 1675.0,62.7 C1675.7,63.2 1675.6,64 1675.4,64.6 L1673.6,66.6"/>
<path d="M1645.6,75.6 C1646.5,77.4 1648,78.3 1649.6,78.3 C1651.6,78.3 1653.8,77.9 1655.9,77.4 L1663.9,74.2 C1666,73.3 1668,72.7 1670.3,72.3 L1676.6,70.1 C1678.5,69.7 1679.8,69.6 1680.8,69.7"/>
<path d="M1669.3,73.6 C1670.2,74.8 1670.8,75.3 1671.8,75.5 L1678.2,75.5 C1680,75 1681,73.6 1681.1,72.3 C1681.2,71.2 1681.1,70.3 1680.8,69.7"/>
<path d="M1644.8,59.2 L1648.3,63.4 M1646.4,64.3 L1645.6,72.4 M1646.4,64.3 L1650.5,65.6 M1676.6,56.4 L1676.6,67.8 M1677.3,59.9 L1681.1,56.7 M1681.4,56.7 L1680.8,59.6 L1682.0,65.9 L1682.4,69.0 M1673.4,64.6 L1673.8,67.5" stroke-width="1.2"/>
</g>
<polygon points="1640.0,81.0 1689.8,68.8 1689.8,84.8 1646.5,96.2 1646.2,97.2 1640.0,97.2" fill="#000"/>
<polygon points="1642.4,82.9 1687.5,72.0 1687.5,81.9 1642.4,93.7" fill="#fff"/>
<text transform="translate(1665.0,82.9) rotate(-13.3) scale(0.7,1)" x="0" y="3.9" text-anchor="middle" font-family="'Liberation Sans', Arial, sans-serif" font-weight="bold" font-size="11" fill="#000" stroke="#000" stroke-width="0.6">HEROVision</text>
</g>
</svg>
</body></html>
